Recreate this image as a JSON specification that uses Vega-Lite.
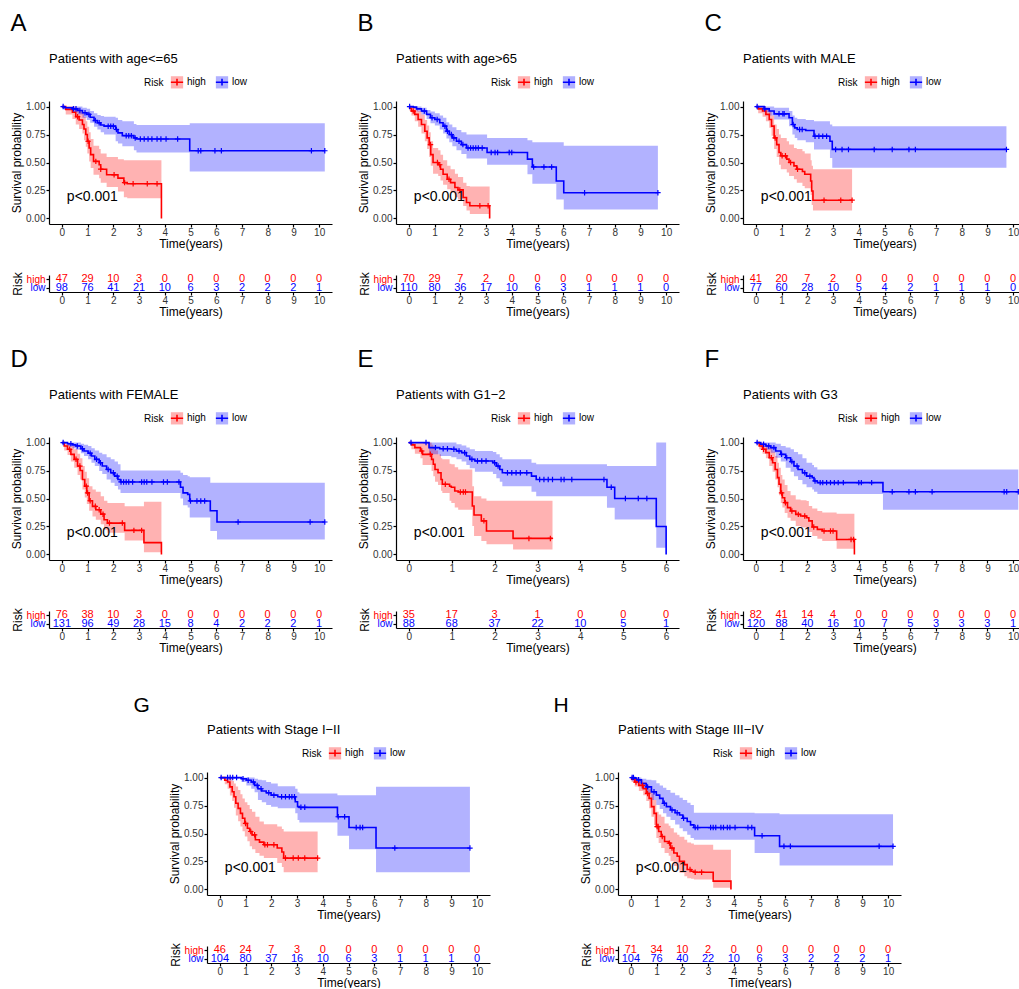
{
"$schema": "https://vega.github.io/schema/vega-lite/v6.json",
"padding": {"left": 10, "top": 12, "right": 0, "bottom": 0},
"background": "white",
"config": {
 "view": {"stroke": null},
 "font": "Liberation Sans",
 "title": {"anchor": "start", "frame": "group", "fontSize": 13, "fontWeight": "normal", "font": "Liberation Sans", "color": "black", "offset": 9},
 "axis": {"grid": false, "domainColor": "black", "tickColor": "black", "domainWidth": 1.2, "tickWidth": 1.2, "tickSize": 3, "labelPadding": 1, "labelColor": "#333333", "labelFont": "Liberation Sans", "labelFontSize": 10, "labelFlush": false, "labelOverlap": false, "titleFont": "Liberation Sans", "titleFontSize": 12, "titleFontWeight": "normal", "titleColor": "black", "titlePadding": 2},
 "axisX": {"labelPadding": 0, "titlePadding": 1},
 "legend": {"labelFont": "Liberation Sans", "labelFontSize": 10, "titleFont": "Liberation Sans", "titleFontSize": 10, "titleFontWeight": "normal", "labelColor": "black", "titleColor": "black"},
 "text": {"font": "Liberation Sans"}
},
"datasets": {
"km": [
{"p":"A","r":"high","t":0,"s":1,"lo":1,"hi":1},
{"p":"A","r":"high","t":0.15,"s":0.975,"lo":0.93,"hi":1},
{"p":"A","r":"high","t":0.41,"s":0.95,"lo":0.89,"hi":1},
{"p":"A","r":"high","t":0.54,"s":0.91,"lo":0.84,"hi":0.99},
{"p":"A","r":"high","t":0.67,"s":0.88,"lo":0.8,"hi":0.97},
{"p":"A","r":"high","t":0.8,"s":0.84,"lo":0.76,"hi":0.94},
{"p":"A","r":"high","t":0.86,"s":0.8,"lo":0.7,"hi":0.91},
{"p":"A","r":"high","t":0.93,"s":0.75,"lo":0.64,"hi":0.87},
{"p":"A","r":"high","t":0.99,"s":0.69,"lo":0.58,"hi":0.82},
{"p":"A","r":"high","t":1.06,"s":0.63,"lo":0.51,"hi":0.77},
{"p":"A","r":"high","t":1.12,"s":0.57,"lo":0.45,"hi":0.71},
{"p":"A","r":"high","t":1.23,"s":0.51,"lo":0.39,"hi":0.65},
{"p":"A","r":"high","t":1.45,"s":0.48,"lo":0.36,"hi":0.62},
{"p":"A","r":"high","t":1.51,"s":0.44,"lo":0.32,"hi":0.58},
{"p":"A","r":"high","t":1.74,"s":0.39,"lo":0.28,"hi":0.55},
{"p":"A","r":"high","t":2.18,"s":0.36,"lo":0.24,"hi":0.53},
{"p":"A","r":"high","t":2.41,"s":0.32,"lo":0.19,"hi":0.52},
{"p":"A","r":"high","t":2.54,"s":0.31,"lo":0.18,"hi":0.52},
{"p":"A","r":"high","t":3.87,"s":0,"lo":0,"hi":0},
{"p":"A","r":"low","t":0,"s":1,"lo":1,"hi":1},
{"p":"A","r":"low","t":0.09,"s":0.99,"lo":0.97,"hi":1},
{"p":"A","r":"low","t":0.41,"s":0.98,"lo":0.95,"hi":1},
{"p":"A","r":"low","t":0.61,"s":0.965,"lo":0.93,"hi":1},
{"p":"A","r":"low","t":0.8,"s":0.945,"lo":0.9,"hi":0.99},
{"p":"A","r":"low","t":0.97,"s":0.93,"lo":0.88,"hi":0.98},
{"p":"A","r":"low","t":1.1,"s":0.905,"lo":0.855,"hi":0.96},
{"p":"A","r":"low","t":1.25,"s":0.875,"lo":0.82,"hi":0.94},
{"p":"A","r":"low","t":1.38,"s":0.855,"lo":0.795,"hi":0.925},
{"p":"A","r":"low","t":1.51,"s":0.835,"lo":0.77,"hi":0.915},
{"p":"A","r":"low","t":1.64,"s":0.825,"lo":0.75,"hi":0.91},
{"p":"A","r":"low","t":2.09,"s":0.795,"lo":0.69,"hi":0.9},
{"p":"A","r":"low","t":2.18,"s":0.765,"lo":0.67,"hi":0.88},
{"p":"A","r":"low","t":2.35,"s":0.74,"lo":0.645,"hi":0.87},
{"p":"A","r":"low","t":2.8,"s":0.72,"lo":0.61,"hi":0.845},
{"p":"A","r":"low","t":2.9,"s":0.71,"lo":0.59,"hi":0.835},
{"p":"A","r":"low","t":4.97,"s":0.605,"lo":0.42,"hi":0.85},
{"p":"A","r":"low","t":10.22,"s":0.605,"lo":0.42,"hi":0.85},
{"p":"B","r":"high","t":0,"s":1,"lo":1,"hi":1},
{"p":"B","r":"high","t":0.03,"s":0.985,"lo":0.96,"hi":1},
{"p":"B","r":"high","t":0.1,"s":0.96,"lo":0.92,"hi":1},
{"p":"B","r":"high","t":0.23,"s":0.93,"lo":0.87,"hi":0.99},
{"p":"B","r":"high","t":0.36,"s":0.885,"lo":0.82,"hi":0.96},
{"p":"B","r":"high","t":0.49,"s":0.84,"lo":0.76,"hi":0.93},
{"p":"B","r":"high","t":0.62,"s":0.78,"lo":0.69,"hi":0.88},
{"p":"B","r":"high","t":0.71,"s":0.72,"lo":0.62,"hi":0.83},
{"p":"B","r":"high","t":0.79,"s":0.66,"lo":0.55,"hi":0.77},
{"p":"B","r":"high","t":0.85,"s":0.57,"lo":0.47,"hi":0.69},
{"p":"B","r":"high","t":0.94,"s":0.5,"lo":0.4,"hi":0.63},
{"p":"B","r":"high","t":1.14,"s":0.48,"lo":0.38,"hi":0.61},
{"p":"B","r":"high","t":1.23,"s":0.44,"lo":0.34,"hi":0.57},
{"p":"B","r":"high","t":1.33,"s":0.395,"lo":0.3,"hi":0.52},
{"p":"B","r":"high","t":1.49,"s":0.35,"lo":0.26,"hi":0.47},
{"p":"B","r":"high","t":1.62,"s":0.32,"lo":0.23,"hi":0.44},
{"p":"B","r":"high","t":1.79,"s":0.276,"lo":0.19,"hi":0.4},
{"p":"B","r":"high","t":1.91,"s":0.255,"lo":0.17,"hi":0.37},
{"p":"B","r":"high","t":2.11,"s":0.187,"lo":0.11,"hi":0.32},
{"p":"B","r":"high","t":2.24,"s":0.142,"lo":0.07,"hi":0.29},
{"p":"B","r":"high","t":2.37,"s":0.113,"lo":0.04,"hi":0.285},
{"p":"B","r":"high","t":3.14,"s":0,"lo":0,"hi":0},
{"p":"B","r":"low","t":0,"s":1,"lo":1,"hi":1},
{"p":"B","r":"low","t":0.17,"s":0.995,"lo":0.98,"hi":1},
{"p":"B","r":"low","t":0.3,"s":0.98,"lo":0.955,"hi":1},
{"p":"B","r":"low","t":0.49,"s":0.96,"lo":0.93,"hi":0.99},
{"p":"B","r":"low","t":0.69,"s":0.93,"lo":0.89,"hi":0.97},
{"p":"B","r":"low","t":0.84,"s":0.9,"lo":0.85,"hi":0.955},
{"p":"B","r":"low","t":1.01,"s":0.885,"lo":0.83,"hi":0.94},
{"p":"B","r":"low","t":1.2,"s":0.855,"lo":0.795,"hi":0.92},
{"p":"B","r":"low","t":1.33,"s":0.825,"lo":0.76,"hi":0.9},
{"p":"B","r":"low","t":1.46,"s":0.78,"lo":0.715,"hi":0.86},
{"p":"B","r":"low","t":1.57,"s":0.75,"lo":0.68,"hi":0.84},
{"p":"B","r":"low","t":1.69,"s":0.72,"lo":0.645,"hi":0.815},
{"p":"B","r":"low","t":1.85,"s":0.69,"lo":0.61,"hi":0.79},
{"p":"B","r":"low","t":2.04,"s":0.66,"lo":0.575,"hi":0.77},
{"p":"B","r":"low","t":2.24,"s":0.63,"lo":0.535,"hi":0.75},
{"p":"B","r":"low","t":3.04,"s":0.59,"lo":0.48,"hi":0.72},
{"p":"B","r":"low","t":4.61,"s":0.53,"lo":0.395,"hi":0.7},
{"p":"B","r":"low","t":4.8,"s":0.46,"lo":0.31,"hi":0.68},
{"p":"B","r":"low","t":5.73,"s":0.335,"lo":0.17,"hi":0.68},
{"p":"B","r":"low","t":6.02,"s":0.23,"lo":0.08,"hi":0.65},
{"p":"B","r":"low","t":9.68,"s":0.23,"lo":0.08,"hi":0.65},
{"p":"C","r":"high","t":0,"s":1,"lo":1,"hi":1},
{"p":"C","r":"high","t":0.09,"s":0.98,"lo":0.94,"hi":1},
{"p":"C","r":"high","t":0.26,"s":0.96,"lo":0.91,"hi":1},
{"p":"C","r":"high","t":0.39,"s":0.93,"lo":0.87,"hi":0.99},
{"p":"C","r":"high","t":0.52,"s":0.885,"lo":0.81,"hi":0.96},
{"p":"C","r":"high","t":0.61,"s":0.825,"lo":0.74,"hi":0.92},
{"p":"C","r":"high","t":0.71,"s":0.72,"lo":0.62,"hi":0.84},
{"p":"C","r":"high","t":0.81,"s":0.66,"lo":0.55,"hi":0.8},
{"p":"C","r":"high","t":0.9,"s":0.59,"lo":0.48,"hi":0.75},
{"p":"C","r":"high","t":0.97,"s":0.56,"lo":0.44,"hi":0.72},
{"p":"C","r":"high","t":1.2,"s":0.53,"lo":0.41,"hi":0.69},
{"p":"C","r":"high","t":1.29,"s":0.5,"lo":0.38,"hi":0.66},
{"p":"C","r":"high","t":1.48,"s":0.47,"lo":0.35,"hi":0.63},
{"p":"C","r":"high","t":1.59,"s":0.44,"lo":0.32,"hi":0.62},
{"p":"C","r":"high","t":1.81,"s":0.42,"lo":0.29,"hi":0.6},
{"p":"C","r":"high","t":1.9,"s":0.395,"lo":0.27,"hi":0.58},
{"p":"C","r":"high","t":2.13,"s":0.335,"lo":0.21,"hi":0.52},
{"p":"C","r":"high","t":2.17,"s":0.245,"lo":0.12,"hi":0.47},
{"p":"C","r":"high","t":2.22,"s":0.163,"lo":0.07,"hi":0.44},
{"p":"C","r":"high","t":3.74,"s":0.163,"lo":0.07,"hi":0.44},
{"p":"C","r":"low","t":0,"s":1,"lo":1,"hi":1},
{"p":"C","r":"low","t":0.32,"s":0.98,"lo":0.95,"hi":1},
{"p":"C","r":"low","t":0.52,"s":0.96,"lo":0.92,"hi":1},
{"p":"C","r":"low","t":0.71,"s":0.935,"lo":0.885,"hi":0.99},
{"p":"C","r":"low","t":1.29,"s":0.9,"lo":0.825,"hi":0.96},
{"p":"C","r":"low","t":1.42,"s":0.84,"lo":0.75,"hi":0.92},
{"p":"C","r":"low","t":1.51,"s":0.81,"lo":0.72,"hi":0.9},
{"p":"C","r":"low","t":1.61,"s":0.795,"lo":0.7,"hi":0.89},
{"p":"C","r":"low","t":1.94,"s":0.786,"lo":0.68,"hi":0.88},
{"p":"C","r":"low","t":2.26,"s":0.735,"lo":0.617,"hi":0.87},
{"p":"C","r":"low","t":2.88,"s":0.69,"lo":0.54,"hi":0.84},
{"p":"C","r":"low","t":2.97,"s":0.617,"lo":0.454,"hi":0.825},
{"p":"C","r":"low","t":9.74,"s":0.617,"lo":0.454,"hi":0.825},
{"p":"D","r":"high","t":0,"s":1,"lo":1,"hi":1},
{"p":"D","r":"high","t":0.09,"s":0.97,"lo":0.93,"hi":1},
{"p":"D","r":"high","t":0.22,"s":0.94,"lo":0.89,"hi":0.99},
{"p":"D","r":"high","t":0.35,"s":0.895,"lo":0.83,"hi":0.97},
{"p":"D","r":"high","t":0.48,"s":0.85,"lo":0.776,"hi":0.94},
{"p":"D","r":"high","t":0.61,"s":0.79,"lo":0.71,"hi":0.9},
{"p":"D","r":"high","t":0.71,"s":0.75,"lo":0.67,"hi":0.86},
{"p":"D","r":"high","t":0.8,"s":0.67,"lo":0.58,"hi":0.79},
{"p":"D","r":"high","t":0.89,"s":0.61,"lo":0.51,"hi":0.74},
{"p":"D","r":"high","t":0.97,"s":0.55,"lo":0.45,"hi":0.68},
{"p":"D","r":"high","t":1.06,"s":0.48,"lo":0.39,"hi":0.61},
{"p":"D","r":"high","t":1.19,"s":0.43,"lo":0.34,"hi":0.58},
{"p":"D","r":"high","t":1.32,"s":0.4,"lo":0.31,"hi":0.56},
{"p":"D","r":"high","t":1.51,"s":0.36,"lo":0.27,"hi":0.52},
{"p":"D","r":"high","t":1.64,"s":0.31,"lo":0.22,"hi":0.48},
{"p":"D","r":"high","t":1.77,"s":0.28,"lo":0.194,"hi":0.46},
{"p":"D","r":"high","t":2.44,"s":0.215,"lo":0.125,"hi":0.43},
{"p":"D","r":"high","t":3.19,"s":0.105,"lo":0.02,"hi":0.47},
{"p":"D","r":"high","t":3.87,"s":0,"lo":0,"hi":0},
{"p":"D","r":"low","t":0,"s":1,"lo":1,"hi":1},
{"p":"D","r":"low","t":0.22,"s":0.99,"lo":0.97,"hi":1},
{"p":"D","r":"low","t":0.41,"s":0.98,"lo":0.95,"hi":1},
{"p":"D","r":"low","t":0.54,"s":0.97,"lo":0.935,"hi":1},
{"p":"D","r":"low","t":0.74,"s":0.945,"lo":0.905,"hi":0.99},
{"p":"D","r":"low","t":0.86,"s":0.925,"lo":0.88,"hi":0.98},
{"p":"D","r":"low","t":1.02,"s":0.905,"lo":0.85,"hi":0.97},
{"p":"D","r":"low","t":1.15,"s":0.88,"lo":0.82,"hi":0.95},
{"p":"D","r":"low","t":1.28,"s":0.85,"lo":0.79,"hi":0.93},
{"p":"D","r":"low","t":1.45,"s":0.82,"lo":0.746,"hi":0.91},
{"p":"D","r":"low","t":1.57,"s":0.79,"lo":0.72,"hi":0.895},
{"p":"D","r":"low","t":1.74,"s":0.76,"lo":0.67,"hi":0.87},
{"p":"D","r":"low","t":1.9,"s":0.73,"lo":0.64,"hi":0.85},
{"p":"D","r":"low","t":2.05,"s":0.7,"lo":0.612,"hi":0.83},
{"p":"D","r":"low","t":2.18,"s":0.67,"lo":0.58,"hi":0.806},
{"p":"D","r":"low","t":2.28,"s":0.648,"lo":0.55,"hi":0.75},
{"p":"D","r":"low","t":4.61,"s":0.6,"lo":0.5,"hi":0.73},
{"p":"D","r":"low","t":4.71,"s":0.55,"lo":0.44,"hi":0.71},
{"p":"D","r":"low","t":4.89,"s":0.537,"lo":0.42,"hi":0.7},
{"p":"D","r":"low","t":4.97,"s":0.478,"lo":0.33,"hi":0.69},
{"p":"D","r":"low","t":5.77,"s":0.39,"lo":0.21,"hi":0.64},
{"p":"D","r":"low","t":6.03,"s":0.29,"lo":0.134,"hi":0.64},
{"p":"D","r":"low","t":10.22,"s":0.29,"lo":0.134,"hi":0.64},
{"p":"E","r":"high","t":0,"s":1,"lo":1,"hi":1},
{"p":"E","r":"high","t":0.06,"s":0.98,"lo":0.94,"hi":1},
{"p":"E","r":"high","t":0.14,"s":0.955,"lo":0.9,"hi":1},
{"p":"E","r":"high","t":0.27,"s":0.925,"lo":0.86,"hi":1},
{"p":"E","r":"high","t":0.32,"s":0.895,"lo":0.8,"hi":1},
{"p":"E","r":"high","t":0.53,"s":0.85,"lo":0.746,"hi":0.98},
{"p":"E","r":"high","t":0.57,"s":0.806,"lo":0.7,"hi":0.955},
{"p":"E","r":"high","t":0.61,"s":0.76,"lo":0.65,"hi":0.93},
{"p":"E","r":"high","t":0.68,"s":0.73,"lo":0.62,"hi":0.895},
{"p":"E","r":"high","t":0.75,"s":0.67,"lo":0.57,"hi":0.86},
{"p":"E","r":"high","t":0.78,"s":0.627,"lo":0.55,"hi":0.85},
{"p":"E","r":"high","t":0.95,"s":0.61,"lo":0.48,"hi":0.81},
{"p":"E","r":"high","t":0.99,"s":0.6,"lo":0.46,"hi":0.806},
{"p":"E","r":"high","t":1.07,"s":0.567,"lo":0.42,"hi":0.78},
{"p":"E","r":"high","t":1.15,"s":0.558,"lo":0.4,"hi":0.76},
{"p":"E","r":"high","t":1.48,"s":0.433,"lo":0.254,"hi":0.61},
{"p":"E","r":"high","t":1.52,"s":0.352,"lo":0.164,"hi":0.52},
{"p":"E","r":"high","t":1.69,"s":0.3,"lo":0.12,"hi":0.5},
{"p":"E","r":"high","t":1.81,"s":0.209,"lo":0.09,"hi":0.48},
{"p":"E","r":"high","t":2.43,"s":0.143,"lo":0.045,"hi":0.48},
{"p":"E","r":"high","t":3.35,"s":0.143,"lo":0.045,"hi":0.48},
{"p":"E","r":"low","t":0,"s":1,"lo":1,"hi":1},
{"p":"E","r":"low","t":0.47,"s":0.955,"lo":0.895,"hi":1},
{"p":"E","r":"low","t":0.72,"s":0.945,"lo":0.88,"hi":1},
{"p":"E","r":"low","t":0.99,"s":0.94,"lo":0.87,"hi":1},
{"p":"E","r":"low","t":1.11,"s":0.925,"lo":0.85,"hi":0.985},
{"p":"E","r":"low","t":1.23,"s":0.91,"lo":0.83,"hi":0.975},
{"p":"E","r":"low","t":1.34,"s":0.88,"lo":0.8,"hi":0.955},
{"p":"E","r":"low","t":1.42,"s":0.85,"lo":0.77,"hi":0.94},
{"p":"E","r":"low","t":1.54,"s":0.836,"lo":0.74,"hi":0.925},
{"p":"E","r":"low","t":1.96,"s":0.82,"lo":0.72,"hi":0.915},
{"p":"E","r":"low","t":2.04,"s":0.79,"lo":0.68,"hi":0.895},
{"p":"E","r":"low","t":2.12,"s":0.76,"lo":0.65,"hi":0.87},
{"p":"E","r":"low","t":2.18,"s":0.73,"lo":0.61,"hi":0.85},
{"p":"E","r":"low","t":2.86,"s":0.7,"lo":0.56,"hi":0.82},
{"p":"E","r":"low","t":2.97,"s":0.67,"lo":0.52,"hi":0.806},
{"p":"E","r":"low","t":4.62,"s":0.6,"lo":0.418,"hi":0.79},
{"p":"E","r":"low","t":4.8,"s":0.5,"lo":0.313,"hi":0.79},
{"p":"E","r":"low","t":5.77,"s":0.25,"lo":0.06,"hi":1},
{"p":"E","r":"low","t":6.0,"s":0,"lo":0,"hi":0},
{"p":"F","r":"high","t":0,"s":1,"lo":1,"hi":1},
{"p":"F","r":"high","t":0.13,"s":0.97,"lo":0.94,"hi":1},
{"p":"F","r":"high","t":0.26,"s":0.94,"lo":0.9,"hi":0.99},
{"p":"F","r":"high","t":0.39,"s":0.91,"lo":0.86,"hi":0.97},
{"p":"F","r":"high","t":0.52,"s":0.865,"lo":0.79,"hi":0.955},
{"p":"F","r":"high","t":0.65,"s":0.82,"lo":0.74,"hi":0.92},
{"p":"F","r":"high","t":0.75,"s":0.76,"lo":0.67,"hi":0.88},
{"p":"F","r":"high","t":0.84,"s":0.687,"lo":0.6,"hi":0.82},
{"p":"F","r":"high","t":0.9,"s":0.627,"lo":0.53,"hi":0.776},
{"p":"F","r":"high","t":0.97,"s":0.55,"lo":0.46,"hi":0.71},
{"p":"F","r":"high","t":1.03,"s":0.507,"lo":0.42,"hi":0.67},
{"p":"F","r":"high","t":1.12,"s":0.463,"lo":0.37,"hi":0.62},
{"p":"F","r":"high","t":1.23,"s":0.418,"lo":0.328,"hi":0.567},
{"p":"F","r":"high","t":1.35,"s":0.388,"lo":0.3,"hi":0.53},
{"p":"F","r":"high","t":1.55,"s":0.358,"lo":0.254,"hi":0.49},
{"p":"F","r":"high","t":1.74,"s":0.343,"lo":0.24,"hi":0.485},
{"p":"F","r":"high","t":1.97,"s":0.328,"lo":0.224,"hi":0.478},
{"p":"F","r":"high","t":2.06,"s":0.3,"lo":0.2,"hi":0.433},
{"p":"F","r":"high","t":2.19,"s":0.245,"lo":0.164,"hi":0.41},
{"p":"F","r":"high","t":2.39,"s":0.224,"lo":0.14,"hi":0.388},
{"p":"F","r":"high","t":2.58,"s":0.21,"lo":0.12,"hi":0.375},
{"p":"F","r":"high","t":3.14,"s":0.134,"lo":0.05,"hi":0.364},
{"p":"F","r":"high","t":3.83,"s":0,"lo":0,"hi":0},
{"p":"F","r":"low","t":0,"s":1,"lo":1,"hi":1},
{"p":"F","r":"low","t":0.19,"s":0.985,"lo":0.96,"hi":1},
{"p":"F","r":"low","t":0.39,"s":0.97,"lo":0.935,"hi":1},
{"p":"F","r":"low","t":0.58,"s":0.955,"lo":0.91,"hi":1},
{"p":"F","r":"low","t":0.77,"s":0.925,"lo":0.865,"hi":0.99},
{"p":"F","r":"low","t":0.97,"s":0.895,"lo":0.83,"hi":0.97},
{"p":"F","r":"low","t":1.16,"s":0.865,"lo":0.776,"hi":0.955},
{"p":"F","r":"low","t":1.35,"s":0.83,"lo":0.74,"hi":0.94},
{"p":"F","r":"low","t":1.48,"s":0.79,"lo":0.7,"hi":0.915},
{"p":"F","r":"low","t":1.64,"s":0.76,"lo":0.665,"hi":0.895},
{"p":"F","r":"low","t":1.81,"s":0.73,"lo":0.627,"hi":0.86},
{"p":"F","r":"low","t":1.97,"s":0.7,"lo":0.6,"hi":0.82},
{"p":"F","r":"low","t":2.19,"s":0.687,"lo":0.58,"hi":0.8},
{"p":"F","r":"low","t":2.26,"s":0.657,"lo":0.56,"hi":0.78},
{"p":"F","r":"low","t":2.39,"s":0.642,"lo":0.54,"hi":0.76},
{"p":"F","r":"low","t":4.94,"s":0.56,"lo":0.4,"hi":0.76},
{"p":"F","r":"low","t":10.2,"s":0.56,"lo":0.4,"hi":0.76},
{"p":"G","r":"high","t":0,"s":1,"lo":1,"hi":1},
{"p":"G","r":"high","t":0.19,"s":0.976,"lo":0.94,"hi":1},
{"p":"G","r":"high","t":0.3,"s":0.96,"lo":0.9,"hi":1},
{"p":"G","r":"high","t":0.39,"s":0.917,"lo":0.84,"hi":1},
{"p":"G","r":"high","t":0.48,"s":0.873,"lo":0.79,"hi":0.97},
{"p":"G","r":"high","t":0.55,"s":0.828,"lo":0.73,"hi":0.947},
{"p":"G","r":"high","t":0.62,"s":0.77,"lo":0.66,"hi":0.92},
{"p":"G","r":"high","t":0.71,"s":0.725,"lo":0.61,"hi":0.888},
{"p":"G","r":"high","t":0.8,"s":0.68,"lo":0.562,"hi":0.85},
{"p":"G","r":"high","t":0.88,"s":0.636,"lo":0.52,"hi":0.814},
{"p":"G","r":"high","t":0.97,"s":0.59,"lo":0.473,"hi":0.78},
{"p":"G","r":"high","t":1.07,"s":0.547,"lo":0.43,"hi":0.754},
{"p":"G","r":"high","t":1.16,"s":0.518,"lo":0.385,"hi":0.72},
{"p":"G","r":"high","t":1.25,"s":0.488,"lo":0.36,"hi":0.695},
{"p":"G","r":"high","t":1.38,"s":0.444,"lo":0.325,"hi":0.65},
{"p":"G","r":"high","t":1.54,"s":0.423,"lo":0.3,"hi":0.607},
{"p":"G","r":"high","t":1.71,"s":0.4,"lo":0.28,"hi":0.583},
{"p":"G","r":"high","t":2.23,"s":0.37,"lo":0.237,"hi":0.562},
{"p":"G","r":"high","t":2.41,"s":0.334,"lo":0.2,"hi":0.54},
{"p":"G","r":"high","t":2.48,"s":0.28,"lo":0.154,"hi":0.518},
{"p":"G","r":"high","t":3.8,"s":0.28,"lo":0.154,"hi":0.518},
{"p":"G","r":"low","t":0,"s":1,"lo":1,"hi":1},
{"p":"G","r":"low","t":0.84,"s":0.99,"lo":0.96,"hi":1},
{"p":"G","r":"low","t":1.03,"s":0.976,"lo":0.93,"hi":1},
{"p":"G","r":"low","t":1.22,"s":0.96,"lo":0.9,"hi":1},
{"p":"G","r":"low","t":1.35,"s":0.93,"lo":0.87,"hi":0.99},
{"p":"G","r":"low","t":1.48,"s":0.9,"lo":0.8,"hi":0.98},
{"p":"G","r":"low","t":1.63,"s":0.88,"lo":0.78,"hi":0.976},
{"p":"G","r":"low","t":1.8,"s":0.864,"lo":0.754,"hi":0.96},
{"p":"G","r":"low","t":1.99,"s":0.843,"lo":0.74,"hi":0.947},
{"p":"G","r":"low","t":2.25,"s":0.828,"lo":0.725,"hi":0.923},
{"p":"G","r":"low","t":2.93,"s":0.784,"lo":0.68,"hi":0.9},
{"p":"G","r":"low","t":3.02,"s":0.74,"lo":0.62,"hi":0.87},
{"p":"G","r":"low","t":3.09,"s":0.734,"lo":0.598,"hi":0.858},
{"p":"G","r":"low","t":4.57,"s":0.65,"lo":0.48,"hi":0.843},
{"p":"G","r":"low","t":5.02,"s":0.553,"lo":0.36,"hi":0.843},
{"p":"G","r":"low","t":6.07,"s":0.37,"lo":0.154,"hi":0.917},
{"p":"G","r":"low","t":9.72,"s":0.37,"lo":0.154,"hi":0.917},
{"p":"H","r":"high","t":0,"s":1,"lo":1,"hi":1},
{"p":"H","r":"high","t":0.03,"s":0.985,"lo":0.96,"hi":1},
{"p":"H","r":"high","t":0.15,"s":0.96,"lo":0.92,"hi":1},
{"p":"H","r":"high","t":0.31,"s":0.93,"lo":0.88,"hi":0.98},
{"p":"H","r":"high","t":0.48,"s":0.9,"lo":0.843,"hi":0.96},
{"p":"H","r":"high","t":0.6,"s":0.858,"lo":0.79,"hi":0.93},
{"p":"H","r":"high","t":0.71,"s":0.814,"lo":0.725,"hi":0.9},
{"p":"H","r":"high","t":0.8,"s":0.74,"lo":0.65,"hi":0.858},
{"p":"H","r":"high","t":0.9,"s":0.68,"lo":0.577,"hi":0.8},
{"p":"H","r":"high","t":0.99,"s":0.562,"lo":0.46,"hi":0.695},
{"p":"H","r":"high","t":1.08,"s":0.518,"lo":0.414,"hi":0.67},
{"p":"H","r":"high","t":1.18,"s":0.473,"lo":0.37,"hi":0.65},
{"p":"H","r":"high","t":1.31,"s":0.429,"lo":0.325,"hi":0.59},
{"p":"H","r":"high","t":1.47,"s":0.414,"lo":0.3,"hi":0.57},
{"p":"H","r":"high","t":1.54,"s":0.37,"lo":0.251,"hi":0.547},
{"p":"H","r":"high","t":1.67,"s":0.325,"lo":0.21,"hi":0.51},
{"p":"H","r":"high","t":1.8,"s":0.296,"lo":0.178,"hi":0.488},
{"p":"H","r":"high","t":1.89,"s":0.251,"lo":0.15,"hi":0.47},
{"p":"H","r":"high","t":2.08,"s":0.222,"lo":0.118,"hi":0.444},
{"p":"H","r":"high","t":2.19,"s":0.178,"lo":0.1,"hi":0.42},
{"p":"H","r":"high","t":2.34,"s":0.163,"lo":0.095,"hi":0.41},
{"p":"H","r":"high","t":2.45,"s":0.154,"lo":0.089,"hi":0.4},
{"p":"H","r":"high","t":3.2,"s":0.074,"lo":0.015,"hi":0.355},
{"p":"H","r":"high","t":3.89,"s":0,"lo":0,"hi":0},
{"p":"H","r":"low","t":0,"s":1,"lo":1,"hi":1},
{"p":"H","r":"low","t":0.15,"s":0.995,"lo":0.97,"hi":1},
{"p":"H","r":"low","t":0.22,"s":0.98,"lo":0.95,"hi":1},
{"p":"H","r":"low","t":0.41,"s":0.947,"lo":0.9,"hi":0.99},
{"p":"H","r":"low","t":0.6,"s":0.917,"lo":0.86,"hi":0.98},
{"p":"H","r":"low","t":0.8,"s":0.873,"lo":0.8,"hi":0.976},
{"p":"H","r":"low","t":0.99,"s":0.843,"lo":0.754,"hi":0.95},
{"p":"H","r":"low","t":1.12,"s":0.814,"lo":0.72,"hi":0.93},
{"p":"H","r":"low","t":1.25,"s":0.77,"lo":0.68,"hi":0.91},
{"p":"H","r":"low","t":1.38,"s":0.74,"lo":0.65,"hi":0.888},
{"p":"H","r":"low","t":1.54,"s":0.71,"lo":0.62,"hi":0.865},
{"p":"H","r":"low","t":1.72,"s":0.686,"lo":0.58,"hi":0.843},
{"p":"H","r":"low","t":1.89,"s":0.666,"lo":0.547,"hi":0.82},
{"p":"H","r":"low","t":2.02,"s":0.636,"lo":0.52,"hi":0.8},
{"p":"H","r":"low","t":2.19,"s":0.607,"lo":0.488,"hi":0.775},
{"p":"H","r":"low","t":2.32,"s":0.577,"lo":0.46,"hi":0.754},
{"p":"H","r":"low","t":2.45,"s":0.553,"lo":0.444,"hi":0.686},
{"p":"H","r":"low","t":4.81,"s":0.48,"lo":0.325,"hi":0.68},
{"p":"H","r":"low","t":5.78,"s":0.385,"lo":0.213,"hi":0.672},
{"p":"H","r":"low","t":10.19,"s":0.385,"lo":0.213,"hi":0.672}
],
"cen": [
{"p":"A","r":"high","t":0.61,"s":0.91},{"p":"A","r":"high","t":1.02,"s":0.69},{"p":"A","r":"high","t":1.32,"s":0.51},{"p":"A","r":"high","t":1.51,"s":0.44},{"p":"A","r":"high","t":2.03,"s":0.39},{"p":"A","r":"high","t":2.44,"s":0.32},{"p":"A","r":"high","t":2.77,"s":0.31},{"p":"A","r":"high","t":3.32,"s":0.31},{"p":"A","r":"high","t":3.7,"s":0.31},
{"p":"A","r":"low","t":0.05,"s":1},{"p":"A","r":"low","t":0.45,"s":0.98},{"p":"A","r":"low","t":0.55,"s":0.98},{"p":"A","r":"low","t":0.7,"s":0.965},{"p":"A","r":"low","t":0.9,"s":0.945},{"p":"A","r":"low","t":1.05,"s":0.93},{"p":"A","r":"low","t":1.3,"s":0.875},{"p":"A","r":"low","t":1.45,"s":0.855},{"p":"A","r":"low","t":1.8,"s":0.825},{"p":"A","r":"low","t":1.9,"s":0.825},{"p":"A","r":"low","t":2.0,"s":0.825},{"p":"A","r":"low","t":2.12,"s":0.795},{"p":"A","r":"low","t":2.5,"s":0.74},{"p":"A","r":"low","t":2.6,"s":0.74},{"p":"A","r":"low","t":2.7,"s":0.74},{"p":"A","r":"low","t":2.85,"s":0.72},{"p":"A","r":"low","t":3.05,"s":0.71},{"p":"A","r":"low","t":3.2,"s":0.71},{"p":"A","r":"low","t":3.35,"s":0.71},{"p":"A","r":"low","t":3.5,"s":0.71},{"p":"A","r":"low","t":3.7,"s":0.71},{"p":"A","r":"low","t":3.85,"s":0.71},{"p":"A","r":"low","t":4.05,"s":0.71},{"p":"A","r":"low","t":4.5,"s":0.71},{"p":"A","r":"low","t":5.3,"s":0.605},{"p":"A","r":"low","t":5.4,"s":0.605},{"p":"A","r":"low","t":5.95,"s":0.605},{"p":"A","r":"low","t":6.2,"s":0.605},{"p":"A","r":"low","t":9.7,"s":0.605},{"p":"A","r":"low","t":10.22,"s":0.605},
{"p":"B","r":"high","t":0.17,"s":0.96},{"p":"B","r":"high","t":0.84,"s":0.66},{"p":"B","r":"high","t":1.11,"s":0.5},{"p":"B","r":"high","t":1.2,"s":0.48},{"p":"B","r":"high","t":1.56,"s":0.35},{"p":"B","r":"high","t":1.98,"s":0.255},{"p":"B","r":"high","t":2.76,"s":0.113},{"p":"B","r":"high","t":3.08,"s":0.113},
{"p":"B","r":"low","t":0.03,"s":1},{"p":"B","r":"low","t":0.6,"s":0.96},{"p":"B","r":"low","t":0.9,"s":0.9},{"p":"B","r":"low","t":1.1,"s":0.885},{"p":"B","r":"low","t":1.4,"s":0.825},{"p":"B","r":"low","t":1.5,"s":0.78},{"p":"B","r":"low","t":1.65,"s":0.75},{"p":"B","r":"low","t":1.75,"s":0.72},{"p":"B","r":"low","t":1.95,"s":0.69},{"p":"B","r":"low","t":2.1,"s":0.66},{"p":"B","r":"low","t":2.3,"s":0.63},{"p":"B","r":"low","t":2.4,"s":0.63},{"p":"B","r":"low","t":2.5,"s":0.63},{"p":"B","r":"low","t":2.6,"s":0.63},{"p":"B","r":"low","t":2.7,"s":0.63},{"p":"B","r":"low","t":2.85,"s":0.63},{"p":"B","r":"low","t":3.2,"s":0.59},{"p":"B","r":"low","t":3.35,"s":0.59},{"p":"B","r":"low","t":3.45,"s":0.59},{"p":"B","r":"low","t":3.9,"s":0.59},{"p":"B","r":"low","t":4.0,"s":0.59},{"p":"B","r":"low","t":4.85,"s":0.46},{"p":"B","r":"low","t":5.25,"s":0.46},{"p":"B","r":"low","t":5.55,"s":0.46},{"p":"B","r":"low","t":6.83,"s":0.23},{"p":"B","r":"low","t":9.68,"s":0.23},
{"p":"C","r":"high","t":0.75,"s":0.72},{"p":"C","r":"high","t":1.02,"s":0.56},{"p":"C","r":"high","t":1.15,"s":0.56},{"p":"C","r":"high","t":1.35,"s":0.5},{"p":"C","r":"high","t":1.62,"s":0.44},{"p":"C","r":"high","t":2.65,"s":0.163},{"p":"C","r":"high","t":3.3,"s":0.163},{"p":"C","r":"high","t":3.74,"s":0.163},
{"p":"C","r":"low","t":0.05,"s":1},{"p":"C","r":"low","t":0.35,"s":0.98},{"p":"C","r":"low","t":0.9,"s":0.935},{"p":"C","r":"low","t":1.05,"s":0.935},{"p":"C","r":"low","t":1.1,"s":0.935},{"p":"C","r":"low","t":1.45,"s":0.84},{"p":"C","r":"low","t":1.7,"s":0.795},{"p":"C","r":"low","t":1.8,"s":0.795},{"p":"C","r":"low","t":2.3,"s":0.735},{"p":"C","r":"low","t":2.45,"s":0.735},{"p":"C","r":"low","t":2.6,"s":0.735},{"p":"C","r":"low","t":2.75,"s":0.735},{"p":"C","r":"low","t":3.1,"s":0.617},{"p":"C","r":"low","t":3.35,"s":0.617},{"p":"C","r":"low","t":3.6,"s":0.617},{"p":"C","r":"low","t":4.6,"s":0.617},{"p":"C","r":"low","t":5.3,"s":0.617},{"p":"C","r":"low","t":5.95,"s":0.617},{"p":"C","r":"low","t":6.2,"s":0.617},{"p":"C","r":"low","t":9.74,"s":0.617},
{"p":"D","r":"high","t":0.3,"s":0.94},{"p":"D","r":"high","t":0.55,"s":0.85},{"p":"D","r":"high","t":0.7,"s":0.79},{"p":"D","r":"high","t":0.95,"s":0.61},{"p":"D","r":"high","t":1.0,"s":0.55},{"p":"D","r":"high","t":1.1,"s":0.48},{"p":"D","r":"high","t":1.3,"s":0.43},{"p":"D","r":"high","t":1.45,"s":0.4},{"p":"D","r":"high","t":1.6,"s":0.36},{"p":"D","r":"high","t":1.85,"s":0.28},{"p":"D","r":"high","t":2.35,"s":0.28},{"p":"D","r":"high","t":2.8,"s":0.215},{"p":"D","r":"high","t":3.1,"s":0.215},
{"p":"D","r":"low","t":0.05,"s":1},{"p":"D","r":"low","t":0.35,"s":0.99},{"p":"D","r":"low","t":0.6,"s":0.97},{"p":"D","r":"low","t":0.8,"s":0.945},{"p":"D","r":"low","t":1.1,"s":0.905},{"p":"D","r":"low","t":1.35,"s":0.85},{"p":"D","r":"low","t":1.5,"s":0.82},{"p":"D","r":"low","t":1.8,"s":0.76},{"p":"D","r":"low","t":2.0,"s":0.73},{"p":"D","r":"low","t":2.15,"s":0.7},{"p":"D","r":"low","t":2.3,"s":0.648},{"p":"D","r":"low","t":2.4,"s":0.648},{"p":"D","r":"low","t":2.5,"s":0.648},{"p":"D","r":"low","t":2.6,"s":0.648},{"p":"D","r":"low","t":2.75,"s":0.648},{"p":"D","r":"low","t":3.1,"s":0.648},{"p":"D","r":"low","t":3.2,"s":0.648},{"p":"D","r":"low","t":3.3,"s":0.648},{"p":"D","r":"low","t":3.5,"s":0.648},{"p":"D","r":"low","t":3.95,"s":0.648},{"p":"D","r":"low","t":4.1,"s":0.648},{"p":"D","r":"low","t":4.55,"s":0.648},{"p":"D","r":"low","t":5.0,"s":0.478},{"p":"D","r":"low","t":5.25,"s":0.478},{"p":"D","r":"low","t":5.4,"s":0.478},{"p":"D","r":"low","t":5.55,"s":0.478},{"p":"D","r":"low","t":6.85,"s":0.29},{"p":"D","r":"low","t":9.65,"s":0.29},{"p":"D","r":"low","t":10.22,"s":0.29},
{"p":"E","r":"high","t":0.3,"s":0.925},{"p":"E","r":"high","t":0.5,"s":0.895},{"p":"E","r":"high","t":0.85,"s":0.627},{"p":"E","r":"high","t":1.2,"s":0.558},{"p":"E","r":"high","t":1.27,"s":0.558},{"p":"E","r":"high","t":1.32,"s":0.558},{"p":"E","r":"high","t":1.75,"s":0.3},{"p":"E","r":"high","t":2.8,"s":0.143},{"p":"E","r":"high","t":3.3,"s":0.143},
{"p":"E","r":"low","t":0.05,"s":1},{"p":"E","r":"low","t":0.4,"s":1},{"p":"E","r":"low","t":0.62,"s":0.955},{"p":"E","r":"low","t":0.8,"s":0.945},{"p":"E","r":"low","t":0.9,"s":0.945},{"p":"E","r":"low","t":1.05,"s":0.94},{"p":"E","r":"low","t":1.17,"s":0.925},{"p":"E","r":"low","t":1.3,"s":0.91},{"p":"E","r":"low","t":1.47,"s":0.85},{"p":"E","r":"low","t":1.6,"s":0.836},{"p":"E","r":"low","t":1.7,"s":0.836},{"p":"E","r":"low","t":1.8,"s":0.836},{"p":"E","r":"low","t":2.0,"s":0.82},{"p":"E","r":"low","t":2.08,"s":0.79},{"p":"E","r":"low","t":2.3,"s":0.73},{"p":"E","r":"low","t":2.4,"s":0.73},{"p":"E","r":"low","t":2.5,"s":0.73},{"p":"E","r":"low","t":2.6,"s":0.73},{"p":"E","r":"low","t":2.75,"s":0.73},{"p":"E","r":"low","t":3.05,"s":0.67},{"p":"E","r":"low","t":3.15,"s":0.67},{"p":"E","r":"low","t":3.25,"s":0.67},{"p":"E","r":"low","t":3.35,"s":0.67},{"p":"E","r":"low","t":3.55,"s":0.67},{"p":"E","r":"low","t":3.62,"s":0.67},{"p":"E","r":"low","t":3.8,"s":0.67},{"p":"E","r":"low","t":4.55,"s":0.67},{"p":"E","r":"low","t":4.72,"s":0.6},{"p":"E","r":"low","t":5.05,"s":0.5},{"p":"E","r":"low","t":5.35,"s":0.5},{"p":"E","r":"low","t":5.55,"s":0.5},
{"p":"F","r":"high","t":0.3,"s":0.94},{"p":"F","r":"high","t":0.6,"s":0.865},{"p":"F","r":"high","t":1.0,"s":0.55},{"p":"F","r":"high","t":1.15,"s":0.463},{"p":"F","r":"high","t":1.4,"s":0.388},{"p":"F","r":"high","t":1.65,"s":0.358},{"p":"F","r":"high","t":1.9,"s":0.343},{"p":"F","r":"high","t":2.25,"s":0.245},{"p":"F","r":"high","t":2.65,"s":0.21},{"p":"F","r":"high","t":2.9,"s":0.21},{"p":"F","r":"high","t":3.0,"s":0.21},{"p":"F","r":"high","t":3.7,"s":0.134},{"p":"F","r":"high","t":3.8,"s":0.134},
{"p":"F","r":"low","t":0.05,"s":1},{"p":"F","r":"low","t":0.3,"s":0.985},{"p":"F","r":"low","t":0.5,"s":0.97},{"p":"F","r":"low","t":0.7,"s":0.955},{"p":"F","r":"low","t":1.0,"s":0.895},{"p":"F","r":"low","t":1.2,"s":0.865},{"p":"F","r":"low","t":1.4,"s":0.83},{"p":"F","r":"low","t":1.6,"s":0.79},{"p":"F","r":"low","t":1.9,"s":0.73},{"p":"F","r":"low","t":2.1,"s":0.7},{"p":"F","r":"low","t":2.3,"s":0.657},{"p":"F","r":"low","t":2.5,"s":0.642},{"p":"F","r":"low","t":2.6,"s":0.642},{"p":"F","r":"low","t":2.75,"s":0.642},{"p":"F","r":"low","t":2.9,"s":0.642},{"p":"F","r":"low","t":3.05,"s":0.642},{"p":"F","r":"low","t":3.2,"s":0.642},{"p":"F","r":"low","t":3.4,"s":0.642},{"p":"F","r":"low","t":4.0,"s":0.642},{"p":"F","r":"low","t":4.1,"s":0.642},{"p":"F","r":"low","t":4.5,"s":0.642},{"p":"F","r":"low","t":5.3,"s":0.56},{"p":"F","r":"low","t":5.95,"s":0.56},{"p":"F","r":"low","t":6.2,"s":0.56},{"p":"F","r":"low","t":6.85,"s":0.56},{"p":"F","r":"low","t":9.65,"s":0.56},{"p":"F","r":"low","t":9.75,"s":0.56},{"p":"F","r":"low","t":10.2,"s":0.56},
{"p":"G","r":"high","t":1.0,"s":0.59},{"p":"G","r":"high","t":1.2,"s":0.518},{"p":"G","r":"high","t":1.35,"s":0.488},{"p":"G","r":"high","t":1.75,"s":0.4},{"p":"G","r":"high","t":1.85,"s":0.4},{"p":"G","r":"high","t":2.1,"s":0.4},{"p":"G","r":"high","t":2.55,"s":0.28},{"p":"G","r":"high","t":2.85,"s":0.28},{"p":"G","r":"high","t":3.05,"s":0.28},{"p":"G","r":"high","t":3.3,"s":0.28},{"p":"G","r":"high","t":3.8,"s":0.28},
{"p":"G","r":"low","t":0.05,"s":1},{"p":"G","r":"low","t":0.3,"s":1},{"p":"G","r":"low","t":0.4,"s":1},{"p":"G","r":"low","t":0.5,"s":1},{"p":"G","r":"low","t":0.65,"s":1},{"p":"G","r":"low","t":0.9,"s":0.99},{"p":"G","r":"low","t":1.1,"s":0.976},{"p":"G","r":"low","t":1.3,"s":0.96},{"p":"G","r":"low","t":1.45,"s":0.93},{"p":"G","r":"low","t":1.6,"s":0.9},{"p":"G","r":"low","t":1.9,"s":0.864},{"p":"G","r":"low","t":2.1,"s":0.843},{"p":"G","r":"low","t":2.4,"s":0.828},{"p":"G","r":"low","t":2.55,"s":0.828},{"p":"G","r":"low","t":2.7,"s":0.828},{"p":"G","r":"low","t":2.8,"s":0.828},{"p":"G","r":"low","t":2.9,"s":0.828},{"p":"G","r":"low","t":3.15,"s":0.734},{"p":"G","r":"low","t":3.3,"s":0.734},{"p":"G","r":"low","t":4.6,"s":0.65},{"p":"G","r":"low","t":4.85,"s":0.65},{"p":"G","r":"low","t":5.3,"s":0.553},{"p":"G","r":"low","t":5.45,"s":0.553},{"p":"G","r":"low","t":5.55,"s":0.553},{"p":"G","r":"low","t":6.8,"s":0.37},{"p":"G","r":"low","t":9.72,"s":0.37},
{"p":"H","r":"high","t":0.2,"s":0.96},{"p":"H","r":"high","t":0.45,"s":0.93},{"p":"H","r":"high","t":0.65,"s":0.858},{"p":"H","r":"high","t":1.02,"s":0.562},{"p":"H","r":"high","t":1.06,"s":0.562},{"p":"H","r":"high","t":1.22,"s":0.473},{"p":"H","r":"high","t":1.5,"s":0.414},{"p":"H","r":"high","t":1.6,"s":0.37},{"p":"H","r":"high","t":2.3,"s":0.178},{"p":"H","r":"high","t":2.5,"s":0.154},{"p":"H","r":"high","t":2.75,"s":0.154},
{"p":"H","r":"low","t":0.05,"s":1},{"p":"H","r":"low","t":0.1,"s":1},{"p":"H","r":"low","t":0.3,"s":0.98},{"p":"H","r":"low","t":0.65,"s":0.917},{"p":"H","r":"low","t":0.9,"s":0.873},{"p":"H","r":"low","t":1.3,"s":0.77},{"p":"H","r":"low","t":1.6,"s":0.71},{"p":"H","r":"low","t":1.8,"s":0.686},{"p":"H","r":"low","t":2.05,"s":0.636},{"p":"H","r":"low","t":2.5,"s":0.553},{"p":"H","r":"low","t":2.6,"s":0.553},{"p":"H","r":"low","t":3.1,"s":0.553},{"p":"H","r":"low","t":3.2,"s":0.553},{"p":"H","r":"low","t":3.3,"s":0.553},{"p":"H","r":"low","t":3.5,"s":0.553},{"p":"H","r":"low","t":3.6,"s":0.553},{"p":"H","r":"low","t":3.75,"s":0.553},{"p":"H","r":"low","t":3.85,"s":0.553},{"p":"H","r":"low","t":4.05,"s":0.553},{"p":"H","r":"low","t":4.55,"s":0.553},{"p":"H","r":"low","t":4.7,"s":0.553},{"p":"H","r":"low","t":5.1,"s":0.48},{"p":"H","r":"low","t":5.95,"s":0.385},{"p":"H","r":"low","t":6.2,"s":0.385},{"p":"H","r":"low","t":9.65,"s":0.385},{"p":"H","r":"low","t":10.19,"s":0.385}
],
"risk": [
{"p":"A","r":"high","t":0,"n":47},{"p":"A","r":"high","t":1,"n":29},{"p":"A","r":"high","t":2,"n":10},{"p":"A","r":"high","t":3,"n":3},{"p":"A","r":"high","t":4,"n":0},{"p":"A","r":"high","t":5,"n":0},{"p":"A","r":"high","t":6,"n":0},{"p":"A","r":"high","t":7,"n":0},{"p":"A","r":"high","t":8,"n":0},{"p":"A","r":"high","t":9,"n":0},{"p":"A","r":"high","t":10,"n":0},
{"p":"A","r":"low","t":0,"n":98},{"p":"A","r":"low","t":1,"n":76},{"p":"A","r":"low","t":2,"n":41},{"p":"A","r":"low","t":3,"n":21},{"p":"A","r":"low","t":4,"n":10},{"p":"A","r":"low","t":5,"n":6},{"p":"A","r":"low","t":6,"n":3},{"p":"A","r":"low","t":7,"n":2},{"p":"A","r":"low","t":8,"n":2},{"p":"A","r":"low","t":9,"n":2},{"p":"A","r":"low","t":10,"n":1},
{"p":"B","r":"high","t":0,"n":70},{"p":"B","r":"high","t":1,"n":29},{"p":"B","r":"high","t":2,"n":7},{"p":"B","r":"high","t":3,"n":2},{"p":"B","r":"high","t":4,"n":0},{"p":"B","r":"high","t":5,"n":0},{"p":"B","r":"high","t":6,"n":0},{"p":"B","r":"high","t":7,"n":0},{"p":"B","r":"high","t":8,"n":0},{"p":"B","r":"high","t":9,"n":0},{"p":"B","r":"high","t":10,"n":0},
{"p":"B","r":"low","t":0,"n":110},{"p":"B","r":"low","t":1,"n":80},{"p":"B","r":"low","t":2,"n":36},{"p":"B","r":"low","t":3,"n":17},{"p":"B","r":"low","t":4,"n":10},{"p":"B","r":"low","t":5,"n":6},{"p":"B","r":"low","t":6,"n":3},{"p":"B","r":"low","t":7,"n":1},{"p":"B","r":"low","t":8,"n":1},{"p":"B","r":"low","t":9,"n":1},{"p":"B","r":"low","t":10,"n":0},
{"p":"C","r":"high","t":0,"n":41},{"p":"C","r":"high","t":1,"n":20},{"p":"C","r":"high","t":2,"n":7},{"p":"C","r":"high","t":3,"n":2},{"p":"C","r":"high","t":4,"n":0},{"p":"C","r":"high","t":5,"n":0},{"p":"C","r":"high","t":6,"n":0},{"p":"C","r":"high","t":7,"n":0},{"p":"C","r":"high","t":8,"n":0},{"p":"C","r":"high","t":9,"n":0},{"p":"C","r":"high","t":10,"n":0},
{"p":"C","r":"low","t":0,"n":77},{"p":"C","r":"low","t":1,"n":60},{"p":"C","r":"low","t":2,"n":28},{"p":"C","r":"low","t":3,"n":10},{"p":"C","r":"low","t":4,"n":5},{"p":"C","r":"low","t":5,"n":4},{"p":"C","r":"low","t":6,"n":2},{"p":"C","r":"low","t":7,"n":1},{"p":"C","r":"low","t":8,"n":1},{"p":"C","r":"low","t":9,"n":1},{"p":"C","r":"low","t":10,"n":0},
{"p":"D","r":"high","t":0,"n":76},{"p":"D","r":"high","t":1,"n":38},{"p":"D","r":"high","t":2,"n":10},{"p":"D","r":"high","t":3,"n":3},{"p":"D","r":"high","t":4,"n":0},{"p":"D","r":"high","t":5,"n":0},{"p":"D","r":"high","t":6,"n":0},{"p":"D","r":"high","t":7,"n":0},{"p":"D","r":"high","t":8,"n":0},{"p":"D","r":"high","t":9,"n":0},{"p":"D","r":"high","t":10,"n":0},
{"p":"D","r":"low","t":0,"n":131},{"p":"D","r":"low","t":1,"n":96},{"p":"D","r":"low","t":2,"n":49},{"p":"D","r":"low","t":3,"n":28},{"p":"D","r":"low","t":4,"n":15},{"p":"D","r":"low","t":5,"n":8},{"p":"D","r":"low","t":6,"n":4},{"p":"D","r":"low","t":7,"n":2},{"p":"D","r":"low","t":8,"n":2},{"p":"D","r":"low","t":9,"n":2},{"p":"D","r":"low","t":10,"n":1},
{"p":"E","r":"high","t":0,"n":35},{"p":"E","r":"high","t":1,"n":17},{"p":"E","r":"high","t":2,"n":3},{"p":"E","r":"high","t":3,"n":1},{"p":"E","r":"high","t":4,"n":0},{"p":"E","r":"high","t":5,"n":0},{"p":"E","r":"high","t":6,"n":0},
{"p":"E","r":"low","t":0,"n":88},{"p":"E","r":"low","t":1,"n":68},{"p":"E","r":"low","t":2,"n":37},{"p":"E","r":"low","t":3,"n":22},{"p":"E","r":"low","t":4,"n":10},{"p":"E","r":"low","t":5,"n":5},{"p":"E","r":"low","t":6,"n":1},
{"p":"F","r":"high","t":0,"n":82},{"p":"F","r":"high","t":1,"n":41},{"p":"F","r":"high","t":2,"n":14},{"p":"F","r":"high","t":3,"n":4},{"p":"F","r":"high","t":4,"n":0},{"p":"F","r":"high","t":5,"n":0},{"p":"F","r":"high","t":6,"n":0},{"p":"F","r":"high","t":7,"n":0},{"p":"F","r":"high","t":8,"n":0},{"p":"F","r":"high","t":9,"n":0},{"p":"F","r":"high","t":10,"n":0},
{"p":"F","r":"low","t":0,"n":120},{"p":"F","r":"low","t":1,"n":88},{"p":"F","r":"low","t":2,"n":40},{"p":"F","r":"low","t":3,"n":16},{"p":"F","r":"low","t":4,"n":10},{"p":"F","r":"low","t":5,"n":7},{"p":"F","r":"low","t":6,"n":5},{"p":"F","r":"low","t":7,"n":3},{"p":"F","r":"low","t":8,"n":3},{"p":"F","r":"low","t":9,"n":3},{"p":"F","r":"low","t":10,"n":1},
{"p":"G","r":"high","t":0,"n":46},{"p":"G","r":"high","t":1,"n":24},{"p":"G","r":"high","t":2,"n":7},{"p":"G","r":"high","t":3,"n":3},{"p":"G","r":"high","t":4,"n":0},{"p":"G","r":"high","t":5,"n":0},{"p":"G","r":"high","t":6,"n":0},{"p":"G","r":"high","t":7,"n":0},{"p":"G","r":"high","t":8,"n":0},{"p":"G","r":"high","t":9,"n":0},{"p":"G","r":"high","t":10,"n":0},
{"p":"G","r":"low","t":0,"n":104},{"p":"G","r":"low","t":1,"n":80},{"p":"G","r":"low","t":2,"n":37},{"p":"G","r":"low","t":3,"n":16},{"p":"G","r":"low","t":4,"n":10},{"p":"G","r":"low","t":5,"n":6},{"p":"G","r":"low","t":6,"n":3},{"p":"G","r":"low","t":7,"n":1},{"p":"G","r":"low","t":8,"n":1},{"p":"G","r":"low","t":9,"n":1},{"p":"G","r":"low","t":10,"n":0},
{"p":"H","r":"high","t":0,"n":71},{"p":"H","r":"high","t":1,"n":34},{"p":"H","r":"high","t":2,"n":10},{"p":"H","r":"high","t":3,"n":2},{"p":"H","r":"high","t":4,"n":0},{"p":"H","r":"high","t":5,"n":0},{"p":"H","r":"high","t":6,"n":0},{"p":"H","r":"high","t":7,"n":0},{"p":"H","r":"high","t":8,"n":0},{"p":"H","r":"high","t":9,"n":0},{"p":"H","r":"high","t":10,"n":0},
{"p":"H","r":"low","t":0,"n":104},{"p":"H","r":"low","t":1,"n":76},{"p":"H","r":"low","t":2,"n":40},{"p":"H","r":"low","t":3,"n":22},{"p":"H","r":"low","t":4,"n":10},{"p":"H","r":"low","t":5,"n":6},{"p":"H","r":"low","t":6,"n":3},{"p":"H","r":"low","t":7,"n":2},{"p":"H","r":"low","t":8,"n":2},{"p":"H","r":"low","t":9,"n":2},{"p":"H","r":"low","t":10,"n":1}
]
},
"spacing": 31,
"resolve": {"scale": {"fill": "independent", "stroke": "independent"}, "legend": {"fill": "independent", "stroke": "independent"}},
"vconcat": [
{"spacing": 25, "resolve": {"scale": {"fill": "independent", "stroke": "independent"}, "legend": {"fill": "independent", "stroke": "independent"}},
 "hconcat": [
  {"title": {"text": "A", "frame": "bounds", "fontSize": 24, "offset": 17},
   "spacing": 22, "resolve": {"scale": {"fill": "independent", "stroke": "independent"}, "legend": {"fill": "independent", "stroke": "independent"}},
   "vconcat": [
    {"title": "Patients with age<=65", "width": 283, "height": 123,
     "layer": [
      {"data": {"name": "km"}, "transform": [{"filter": "datum.p=='A'"}], "mark": {"type": "area", "interpolate": "step-after", "opacity": 0.3},
       "encoding": {"x": {"field": "t", "type": "quantitative", "title": "Time(years)", "scale": {"domain": [-0.5, 10.5], "nice": false, "zero": false}, "axis": {"values": [0,1,2,3,4,5,6,7,8,9,10]}},
        "y": {"field": "lo", "type": "quantitative", "title": "Survival probability", "scale": {"domain": [-0.05, 1.05], "nice": false, "zero": false}, "axis": {"values": [0,0.25,0.5,0.75,1], "format": ".2f"}},
        "y2": {"field": "hi"},
        "fill": {"field": "r", "type": "nominal", "scale": {"range": ["red","blue"]}, "legend": {"orient": "none", "legendX": 95, "legendY": -26, "direction": "horizontal", "title": "Risk", "titleOrient": "left", "symbolType": "square", "symbolSize": 150, "symbolOpacity": 0.3, "symbolStrokeWidth": 1.6, "symbolStrokeColor": "transparent", "labelOffset": 3, "columnPadding": 6, "titlePadding": 6}}}},
      {"data": {"name": "km"}, "transform": [{"filter": "datum.p=='A'"}], "mark": {"type": "line", "interpolate": "step-after", "strokeWidth": 1.6},
       "encoding": {"x": {"field": "t", "type": "quantitative", "title": "Time(years)", "scale": {"domain": [-0.5, 10.5], "nice": false, "zero": false}, "axis": {"values": [0,1,2,3,4,5,6,7,8,9,10]}},
        "y": {"field": "s", "type": "quantitative", "title": "Survival probability", "scale": {"domain": [-0.05, 1.05], "nice": false, "zero": false}, "axis": {"values": [0,0.25,0.5,0.75,1], "format": ".2f"}},
        "stroke": {"field": "r", "type": "nominal", "scale": {"domain": ["high","low"], "range": ["red","blue"]}, "legend": {"orient": "none", "legendX": 95, "legendY": -26, "direction": "horizontal", "title": "Risk", "titleOrient": "left", "symbolType": "M-1,0H1M0,-0.55V0.55", "symbolSize": 150, "symbolStrokeWidth": 1.6, "labelOffset": 3, "columnPadding": 6, "titlePadding": 6, "titleOpacity": 0, "labelOpacity": 0}}}},
      {"data": {"name": "cen"}, "transform": [{"filter": "datum.p=='A'"}], "mark": {"type": "point", "shape": "M-1,0H1M0,-1V1", "filled": false, "size": 30, "strokeWidth": 1.2, "opacity": 1},
       "encoding": {"x": {"field": "t", "type": "quantitative", "title": "Time(years)", "scale": {"domain": [-0.5, 10.5], "nice": false, "zero": false}, "axis": {"values": [0,1,2,3,4,5,6,7,8,9,10]}},
        "y": {"field": "s", "type": "quantitative", "title": "Survival probability", "scale": {"domain": [-0.05, 1.05], "nice": false, "zero": false}, "axis": {"values": [0,0.25,0.5,0.75,1], "format": ".2f"}},
        "color": {"field": "r", "type": "nominal", "scale": {"domain": ["high","low"], "range": ["red","blue"]}, "legend": null}}},
      {"data": {"values": [{}]}, "mark": {"type": "text", "align": "left", "dx": 5, "fontSize": 14, "color": "black"},
       "encoding": {"x": {"datum": 0, "title": "Time(years)", "scale": {"domain": [-0.5, 10.5], "nice": false, "zero": false}, "axis": {"values": [0,1,2,3,4,5,6,7,8,9,10]}}, "y": {"datum": 0.19, "title": "Survival probability", "scale": {"domain": [-0.05, 1.05], "nice": false, "zero": false}, "axis": {"values": [0,0.25,0.5,0.75,1], "format": ".2f"}}, "text": {"value": "p<0.001"}}}
     ]},
    {"width": 283, "height": 17, "data": {"name": "risk"}, "transform": [{"filter": "datum.p=='A'"}], "mark": {"type": "text", "fontSize": 11},
     "encoding": {"x": {"field": "t", "type": "quantitative", "title": "Time(years)", "scale": {"domain": [-0.5, 10.5], "nice": false, "zero": false}, "axis": {"values": [0,1,2,3,4,5,6,7,8,9,10]}},
      "y": {"field": "r", "type": "nominal", "title": "Risk", "scale": {"type": "point", "domain": ["high","low"], "padding": 0.5}, "axis": {"labelColor": {"condition": {"test": "datum.value=='high'", "value": "red"}, "value": "blue"}}},
      "text": {"field": "n", "type": "quantitative"},
      "color": {"field": "r", "type": "nominal", "scale": {"domain": ["high","low"], "range": ["red","blue"]}, "legend": null}}}
   ]},
  {"title": {"text": "B", "frame": "bounds", "fontSize": 24, "offset": 17},
   "spacing": 22, "resolve": {"scale": {"fill": "independent", "stroke": "independent"}, "legend": {"fill": "independent", "stroke": "independent"}},
   "vconcat": [
    {"title": "Patients with age>65", "width": 283, "height": 123,
     "layer": [
      {"data": {"name": "km"}, "transform": [{"filter": "datum.p=='B'"}], "mark": {"type": "area", "interpolate": "step-after", "opacity": 0.3},
       "encoding": {"x": {"field": "t", "type": "quantitative", "title": "Time(years)", "scale": {"domain": [-0.5, 10.5], "nice": false, "zero": false}, "axis": {"values": [0,1,2,3,4,5,6,7,8,9,10]}},
        "y": {"field": "lo", "type": "quantitative", "title": "Survival probability", "scale": {"domain": [-0.05, 1.05], "nice": false, "zero": false}, "axis": {"values": [0,0.25,0.5,0.75,1], "format": ".2f"}},
        "y2": {"field": "hi"},
        "fill": {"field": "r", "type": "nominal", "scale": {"range": ["red","blue"]}, "legend": {"orient": "none", "legendX": 95, "legendY": -26, "direction": "horizontal", "title": "Risk", "titleOrient": "left", "symbolType": "square", "symbolSize": 150, "symbolOpacity": 0.3, "symbolStrokeWidth": 1.6, "symbolStrokeColor": "transparent", "labelOffset": 3, "columnPadding": 6, "titlePadding": 6}}}},
      {"data": {"name": "km"}, "transform": [{"filter": "datum.p=='B'"}], "mark": {"type": "line", "interpolate": "step-after", "strokeWidth": 1.6},
       "encoding": {"x": {"field": "t", "type": "quantitative", "title": "Time(years)", "scale": {"domain": [-0.5, 10.5], "nice": false, "zero": false}, "axis": {"values": [0,1,2,3,4,5,6,7,8,9,10]}},
        "y": {"field": "s", "type": "quantitative", "title": "Survival probability", "scale": {"domain": [-0.05, 1.05], "nice": false, "zero": false}, "axis": {"values": [0,0.25,0.5,0.75,1], "format": ".2f"}},
        "stroke": {"field": "r", "type": "nominal", "scale": {"domain": ["high","low"], "range": ["red","blue"]}, "legend": {"orient": "none", "legendX": 95, "legendY": -26, "direction": "horizontal", "title": "Risk", "titleOrient": "left", "symbolType": "M-1,0H1M0,-0.55V0.55", "symbolSize": 150, "symbolStrokeWidth": 1.6, "labelOffset": 3, "columnPadding": 6, "titlePadding": 6, "titleOpacity": 0, "labelOpacity": 0}}}},
      {"data": {"name": "cen"}, "transform": [{"filter": "datum.p=='B'"}], "mark": {"type": "point", "shape": "M-1,0H1M0,-1V1", "filled": false, "size": 30, "strokeWidth": 1.2, "opacity": 1},
       "encoding": {"x": {"field": "t", "type": "quantitative", "title": "Time(years)", "scale": {"domain": [-0.5, 10.5], "nice": false, "zero": false}, "axis": {"values": [0,1,2,3,4,5,6,7,8,9,10]}},
        "y": {"field": "s", "type": "quantitative", "title": "Survival probability", "scale": {"domain": [-0.05, 1.05], "nice": false, "zero": false}, "axis": {"values": [0,0.25,0.5,0.75,1], "format": ".2f"}},
        "color": {"field": "r", "type": "nominal", "scale": {"domain": ["high","low"], "range": ["red","blue"]}, "legend": null}}},
      {"data": {"values": [{}]}, "mark": {"type": "text", "align": "left", "dx": 5, "fontSize": 14, "color": "black"},
       "encoding": {"x": {"datum": 0, "title": "Time(years)", "scale": {"domain": [-0.5, 10.5], "nice": false, "zero": false}, "axis": {"values": [0,1,2,3,4,5,6,7,8,9,10]}}, "y": {"datum": 0.19, "title": "Survival probability", "scale": {"domain": [-0.05, 1.05], "nice": false, "zero": false}, "axis": {"values": [0,0.25,0.5,0.75,1], "format": ".2f"}}, "text": {"value": "p<0.001"}}}
     ]},
    {"width": 283, "height": 17, "data": {"name": "risk"}, "transform": [{"filter": "datum.p=='B'"}], "mark": {"type": "text", "fontSize": 11},
     "encoding": {"x": {"field": "t", "type": "quantitative", "title": "Time(years)", "scale": {"domain": [-0.5, 10.5], "nice": false, "zero": false}, "axis": {"values": [0,1,2,3,4,5,6,7,8,9,10]}},
      "y": {"field": "r", "type": "nominal", "title": "Risk", "scale": {"type": "point", "domain": ["high","low"], "padding": 0.5}, "axis": {"labelColor": {"condition": {"test": "datum.value=='high'", "value": "red"}, "value": "blue"}}},
      "text": {"field": "n", "type": "quantitative"},
      "color": {"field": "r", "type": "nominal", "scale": {"domain": ["high","low"], "range": ["red","blue"]}, "legend": null}}}
   ]},
  {"title": {"text": "C", "frame": "bounds", "fontSize": 24, "offset": 17},
   "spacing": 22, "resolve": {"scale": {"fill": "independent", "stroke": "independent"}, "legend": {"fill": "independent", "stroke": "independent"}},
   "vconcat": [
    {"title": "Patients with MALE", "width": 283, "height": 123,
     "layer": [
      {"data": {"name": "km"}, "transform": [{"filter": "datum.p=='C'"}], "mark": {"type": "area", "interpolate": "step-after", "opacity": 0.3},
       "encoding": {"x": {"field": "t", "type": "quantitative", "title": "Time(years)", "scale": {"domain": [-0.5, 10.5], "nice": false, "zero": false}, "axis": {"values": [0,1,2,3,4,5,6,7,8,9,10]}},
        "y": {"field": "lo", "type": "quantitative", "title": "Survival probability", "scale": {"domain": [-0.05, 1.05], "nice": false, "zero": false}, "axis": {"values": [0,0.25,0.5,0.75,1], "format": ".2f"}},
        "y2": {"field": "hi"},
        "fill": {"field": "r", "type": "nominal", "scale": {"range": ["red","blue"]}, "legend": {"orient": "none", "legendX": 95, "legendY": -26, "direction": "horizontal", "title": "Risk", "titleOrient": "left", "symbolType": "square", "symbolSize": 150, "symbolOpacity": 0.3, "symbolStrokeWidth": 1.6, "symbolStrokeColor": "transparent", "labelOffset": 3, "columnPadding": 6, "titlePadding": 6}}}},
      {"data": {"name": "km"}, "transform": [{"filter": "datum.p=='C'"}], "mark": {"type": "line", "interpolate": "step-after", "strokeWidth": 1.6},
       "encoding": {"x": {"field": "t", "type": "quantitative", "title": "Time(years)", "scale": {"domain": [-0.5, 10.5], "nice": false, "zero": false}, "axis": {"values": [0,1,2,3,4,5,6,7,8,9,10]}},
        "y": {"field": "s", "type": "quantitative", "title": "Survival probability", "scale": {"domain": [-0.05, 1.05], "nice": false, "zero": false}, "axis": {"values": [0,0.25,0.5,0.75,1], "format": ".2f"}},
        "stroke": {"field": "r", "type": "nominal", "scale": {"domain": ["high","low"], "range": ["red","blue"]}, "legend": {"orient": "none", "legendX": 95, "legendY": -26, "direction": "horizontal", "title": "Risk", "titleOrient": "left", "symbolType": "M-1,0H1M0,-0.55V0.55", "symbolSize": 150, "symbolStrokeWidth": 1.6, "labelOffset": 3, "columnPadding": 6, "titlePadding": 6, "titleOpacity": 0, "labelOpacity": 0}}}},
      {"data": {"name": "cen"}, "transform": [{"filter": "datum.p=='C'"}], "mark": {"type": "point", "shape": "M-1,0H1M0,-1V1", "filled": false, "size": 30, "strokeWidth": 1.2, "opacity": 1},
       "encoding": {"x": {"field": "t", "type": "quantitative", "title": "Time(years)", "scale": {"domain": [-0.5, 10.5], "nice": false, "zero": false}, "axis": {"values": [0,1,2,3,4,5,6,7,8,9,10]}},
        "y": {"field": "s", "type": "quantitative", "title": "Survival probability", "scale": {"domain": [-0.05, 1.05], "nice": false, "zero": false}, "axis": {"values": [0,0.25,0.5,0.75,1], "format": ".2f"}},
        "color": {"field": "r", "type": "nominal", "scale": {"domain": ["high","low"], "range": ["red","blue"]}, "legend": null}}},
      {"data": {"values": [{}]}, "mark": {"type": "text", "align": "left", "dx": 5, "fontSize": 14, "color": "black"},
       "encoding": {"x": {"datum": 0, "title": "Time(years)", "scale": {"domain": [-0.5, 10.5], "nice": false, "zero": false}, "axis": {"values": [0,1,2,3,4,5,6,7,8,9,10]}}, "y": {"datum": 0.19, "title": "Survival probability", "scale": {"domain": [-0.05, 1.05], "nice": false, "zero": false}, "axis": {"values": [0,0.25,0.5,0.75,1], "format": ".2f"}}, "text": {"value": "p<0.001"}}}
     ]},
    {"width": 283, "height": 17, "data": {"name": "risk"}, "transform": [{"filter": "datum.p=='C'"}], "mark": {"type": "text", "fontSize": 11},
     "encoding": {"x": {"field": "t", "type": "quantitative", "title": "Time(years)", "scale": {"domain": [-0.5, 10.5], "nice": false, "zero": false}, "axis": {"values": [0,1,2,3,4,5,6,7,8,9,10]}},
      "y": {"field": "r", "type": "nominal", "title": "Risk", "scale": {"type": "point", "domain": ["high","low"], "padding": 0.5}, "axis": {"labelColor": {"condition": {"test": "datum.value=='high'", "value": "red"}, "value": "blue"}}},
      "text": {"field": "n", "type": "quantitative"},
      "color": {"field": "r", "type": "nominal", "scale": {"domain": ["high","low"], "range": ["red","blue"]}, "legend": null}}}
   ]}
 ]},
{"spacing": 42, "resolve": {"scale": {"fill": "independent", "stroke": "independent"}, "legend": {"fill": "independent", "stroke": "independent"}},
 "vconcat": [
{"spacing": 25, "resolve": {"scale": {"fill": "independent", "stroke": "independent"}, "legend": {"fill": "independent", "stroke": "independent"}},
 "hconcat": [
  {"title": {"text": "D", "frame": "bounds", "fontSize": 24, "offset": 17},
   "spacing": 22, "resolve": {"scale": {"fill": "independent", "stroke": "independent"}, "legend": {"fill": "independent", "stroke": "independent"}},
   "vconcat": [
    {"title": "Patients with FEMALE", "width": 283, "height": 123,
     "layer": [
      {"data": {"name": "km"}, "transform": [{"filter": "datum.p=='D'"}], "mark": {"type": "area", "interpolate": "step-after", "opacity": 0.3},
       "encoding": {"x": {"field": "t", "type": "quantitative", "title": "Time(years)", "scale": {"domain": [-0.5, 10.5], "nice": false, "zero": false}, "axis": {"values": [0,1,2,3,4,5,6,7,8,9,10]}},
        "y": {"field": "lo", "type": "quantitative", "title": "Survival probability", "scale": {"domain": [-0.05, 1.05], "nice": false, "zero": false}, "axis": {"values": [0,0.25,0.5,0.75,1], "format": ".2f"}},
        "y2": {"field": "hi"},
        "fill": {"field": "r", "type": "nominal", "scale": {"range": ["red","blue"]}, "legend": {"orient": "none", "legendX": 95, "legendY": -26, "direction": "horizontal", "title": "Risk", "titleOrient": "left", "symbolType": "square", "symbolSize": 150, "symbolOpacity": 0.3, "symbolStrokeWidth": 1.6, "symbolStrokeColor": "transparent", "labelOffset": 3, "columnPadding": 6, "titlePadding": 6}}}},
      {"data": {"name": "km"}, "transform": [{"filter": "datum.p=='D'"}], "mark": {"type": "line", "interpolate": "step-after", "strokeWidth": 1.6},
       "encoding": {"x": {"field": "t", "type": "quantitative", "title": "Time(years)", "scale": {"domain": [-0.5, 10.5], "nice": false, "zero": false}, "axis": {"values": [0,1,2,3,4,5,6,7,8,9,10]}},
        "y": {"field": "s", "type": "quantitative", "title": "Survival probability", "scale": {"domain": [-0.05, 1.05], "nice": false, "zero": false}, "axis": {"values": [0,0.25,0.5,0.75,1], "format": ".2f"}},
        "stroke": {"field": "r", "type": "nominal", "scale": {"domain": ["high","low"], "range": ["red","blue"]}, "legend": {"orient": "none", "legendX": 95, "legendY": -26, "direction": "horizontal", "title": "Risk", "titleOrient": "left", "symbolType": "M-1,0H1M0,-0.55V0.55", "symbolSize": 150, "symbolStrokeWidth": 1.6, "labelOffset": 3, "columnPadding": 6, "titlePadding": 6, "titleOpacity": 0, "labelOpacity": 0}}}},
      {"data": {"name": "cen"}, "transform": [{"filter": "datum.p=='D'"}], "mark": {"type": "point", "shape": "M-1,0H1M0,-1V1", "filled": false, "size": 30, "strokeWidth": 1.2, "opacity": 1},
       "encoding": {"x": {"field": "t", "type": "quantitative", "title": "Time(years)", "scale": {"domain": [-0.5, 10.5], "nice": false, "zero": false}, "axis": {"values": [0,1,2,3,4,5,6,7,8,9,10]}},
        "y": {"field": "s", "type": "quantitative", "title": "Survival probability", "scale": {"domain": [-0.05, 1.05], "nice": false, "zero": false}, "axis": {"values": [0,0.25,0.5,0.75,1], "format": ".2f"}},
        "color": {"field": "r", "type": "nominal", "scale": {"domain": ["high","low"], "range": ["red","blue"]}, "legend": null}}},
      {"data": {"values": [{}]}, "mark": {"type": "text", "align": "left", "dx": 5, "fontSize": 14, "color": "black"},
       "encoding": {"x": {"datum": 0, "title": "Time(years)", "scale": {"domain": [-0.5, 10.5], "nice": false, "zero": false}, "axis": {"values": [0,1,2,3,4,5,6,7,8,9,10]}}, "y": {"datum": 0.19, "title": "Survival probability", "scale": {"domain": [-0.05, 1.05], "nice": false, "zero": false}, "axis": {"values": [0,0.25,0.5,0.75,1], "format": ".2f"}}, "text": {"value": "p<0.001"}}}
     ]},
    {"width": 283, "height": 17, "data": {"name": "risk"}, "transform": [{"filter": "datum.p=='D'"}], "mark": {"type": "text", "fontSize": 11},
     "encoding": {"x": {"field": "t", "type": "quantitative", "title": "Time(years)", "scale": {"domain": [-0.5, 10.5], "nice": false, "zero": false}, "axis": {"values": [0,1,2,3,4,5,6,7,8,9,10]}},
      "y": {"field": "r", "type": "nominal", "title": "Risk", "scale": {"type": "point", "domain": ["high","low"], "padding": 0.5}, "axis": {"labelColor": {"condition": {"test": "datum.value=='high'", "value": "red"}, "value": "blue"}}},
      "text": {"field": "n", "type": "quantitative"},
      "color": {"field": "r", "type": "nominal", "scale": {"domain": ["high","low"], "range": ["red","blue"]}, "legend": null}}}
   ]},
  {"title": {"text": "E", "frame": "bounds", "fontSize": 24, "offset": 17},
   "spacing": 22, "resolve": {"scale": {"fill": "independent", "stroke": "independent"}, "legend": {"fill": "independent", "stroke": "independent"}},
   "vconcat": [
    {"title": "Patients with G1−2", "width": 283, "height": 123,
     "layer": [
      {"data": {"name": "km"}, "transform": [{"filter": "datum.p=='E'"}], "mark": {"type": "area", "interpolate": "step-after", "opacity": 0.3},
       "encoding": {"x": {"field": "t", "type": "quantitative", "title": "Time(years)", "scale": {"domain": [-0.3, 6.3], "nice": false, "zero": false}, "axis": {"values": [0,1,2,3,4,5,6]}},
        "y": {"field": "lo", "type": "quantitative", "title": "Survival probability", "scale": {"domain": [-0.05, 1.05], "nice": false, "zero": false}, "axis": {"values": [0,0.25,0.5,0.75,1], "format": ".2f"}},
        "y2": {"field": "hi"},
        "fill": {"field": "r", "type": "nominal", "scale": {"range": ["red","blue"]}, "legend": {"orient": "none", "legendX": 95, "legendY": -26, "direction": "horizontal", "title": "Risk", "titleOrient": "left", "symbolType": "square", "symbolSize": 150, "symbolOpacity": 0.3, "symbolStrokeWidth": 1.6, "symbolStrokeColor": "transparent", "labelOffset": 3, "columnPadding": 6, "titlePadding": 6}}}},
      {"data": {"name": "km"}, "transform": [{"filter": "datum.p=='E'"}], "mark": {"type": "line", "interpolate": "step-after", "strokeWidth": 1.6},
       "encoding": {"x": {"field": "t", "type": "quantitative", "title": "Time(years)", "scale": {"domain": [-0.3, 6.3], "nice": false, "zero": false}, "axis": {"values": [0,1,2,3,4,5,6]}},
        "y": {"field": "s", "type": "quantitative", "title": "Survival probability", "scale": {"domain": [-0.05, 1.05], "nice": false, "zero": false}, "axis": {"values": [0,0.25,0.5,0.75,1], "format": ".2f"}},
        "stroke": {"field": "r", "type": "nominal", "scale": {"domain": ["high","low"], "range": ["red","blue"]}, "legend": {"orient": "none", "legendX": 95, "legendY": -26, "direction": "horizontal", "title": "Risk", "titleOrient": "left", "symbolType": "M-1,0H1M0,-0.55V0.55", "symbolSize": 150, "symbolStrokeWidth": 1.6, "labelOffset": 3, "columnPadding": 6, "titlePadding": 6, "titleOpacity": 0, "labelOpacity": 0}}}},
      {"data": {"name": "cen"}, "transform": [{"filter": "datum.p=='E'"}], "mark": {"type": "point", "shape": "M-1,0H1M0,-1V1", "filled": false, "size": 30, "strokeWidth": 1.2, "opacity": 1},
       "encoding": {"x": {"field": "t", "type": "quantitative", "title": "Time(years)", "scale": {"domain": [-0.3, 6.3], "nice": false, "zero": false}, "axis": {"values": [0,1,2,3,4,5,6]}},
        "y": {"field": "s", "type": "quantitative", "title": "Survival probability", "scale": {"domain": [-0.05, 1.05], "nice": false, "zero": false}, "axis": {"values": [0,0.25,0.5,0.75,1], "format": ".2f"}},
        "color": {"field": "r", "type": "nominal", "scale": {"domain": ["high","low"], "range": ["red","blue"]}, "legend": null}}},
      {"data": {"values": [{}]}, "mark": {"type": "text", "align": "left", "dx": 5, "fontSize": 14, "color": "black"},
       "encoding": {"x": {"datum": 0, "title": "Time(years)", "scale": {"domain": [-0.3, 6.3], "nice": false, "zero": false}, "axis": {"values": [0,1,2,3,4,5,6]}}, "y": {"datum": 0.19, "title": "Survival probability", "scale": {"domain": [-0.05, 1.05], "nice": false, "zero": false}, "axis": {"values": [0,0.25,0.5,0.75,1], "format": ".2f"}}, "text": {"value": "p<0.001"}}}
     ]},
    {"width": 283, "height": 17, "data": {"name": "risk"}, "transform": [{"filter": "datum.p=='E'"}], "mark": {"type": "text", "fontSize": 11},
     "encoding": {"x": {"field": "t", "type": "quantitative", "title": "Time(years)", "scale": {"domain": [-0.3, 6.3], "nice": false, "zero": false}, "axis": {"values": [0,1,2,3,4,5,6]}},
      "y": {"field": "r", "type": "nominal", "title": "Risk", "scale": {"type": "point", "domain": ["high","low"], "padding": 0.5}, "axis": {"labelColor": {"condition": {"test": "datum.value=='high'", "value": "red"}, "value": "blue"}}},
      "text": {"field": "n", "type": "quantitative"},
      "color": {"field": "r", "type": "nominal", "scale": {"domain": ["high","low"], "range": ["red","blue"]}, "legend": null}}}
   ]},
  {"title": {"text": "F", "frame": "bounds", "fontSize": 24, "offset": 17},
   "spacing": 22, "resolve": {"scale": {"fill": "independent", "stroke": "independent"}, "legend": {"fill": "independent", "stroke": "independent"}},
   "vconcat": [
    {"title": "Patients with G3", "width": 283, "height": 123,
     "layer": [
      {"data": {"name": "km"}, "transform": [{"filter": "datum.p=='F'"}], "mark": {"type": "area", "interpolate": "step-after", "opacity": 0.3},
       "encoding": {"x": {"field": "t", "type": "quantitative", "title": "Time(years)", "scale": {"domain": [-0.5, 10.5], "nice": false, "zero": false}, "axis": {"values": [0,1,2,3,4,5,6,7,8,9,10]}},
        "y": {"field": "lo", "type": "quantitative", "title": "Survival probability", "scale": {"domain": [-0.05, 1.05], "nice": false, "zero": false}, "axis": {"values": [0,0.25,0.5,0.75,1], "format": ".2f"}},
        "y2": {"field": "hi"},
        "fill": {"field": "r", "type": "nominal", "scale": {"range": ["red","blue"]}, "legend": {"orient": "none", "legendX": 95, "legendY": -26, "direction": "horizontal", "title": "Risk", "titleOrient": "left", "symbolType": "square", "symbolSize": 150, "symbolOpacity": 0.3, "symbolStrokeWidth": 1.6, "symbolStrokeColor": "transparent", "labelOffset": 3, "columnPadding": 6, "titlePadding": 6}}}},
      {"data": {"name": "km"}, "transform": [{"filter": "datum.p=='F'"}], "mark": {"type": "line", "interpolate": "step-after", "strokeWidth": 1.6},
       "encoding": {"x": {"field": "t", "type": "quantitative", "title": "Time(years)", "scale": {"domain": [-0.5, 10.5], "nice": false, "zero": false}, "axis": {"values": [0,1,2,3,4,5,6,7,8,9,10]}},
        "y": {"field": "s", "type": "quantitative", "title": "Survival probability", "scale": {"domain": [-0.05, 1.05], "nice": false, "zero": false}, "axis": {"values": [0,0.25,0.5,0.75,1], "format": ".2f"}},
        "stroke": {"field": "r", "type": "nominal", "scale": {"domain": ["high","low"], "range": ["red","blue"]}, "legend": {"orient": "none", "legendX": 95, "legendY": -26, "direction": "horizontal", "title": "Risk", "titleOrient": "left", "symbolType": "M-1,0H1M0,-0.55V0.55", "symbolSize": 150, "symbolStrokeWidth": 1.6, "labelOffset": 3, "columnPadding": 6, "titlePadding": 6, "titleOpacity": 0, "labelOpacity": 0}}}},
      {"data": {"name": "cen"}, "transform": [{"filter": "datum.p=='F'"}], "mark": {"type": "point", "shape": "M-1,0H1M0,-1V1", "filled": false, "size": 30, "strokeWidth": 1.2, "opacity": 1},
       "encoding": {"x": {"field": "t", "type": "quantitative", "title": "Time(years)", "scale": {"domain": [-0.5, 10.5], "nice": false, "zero": false}, "axis": {"values": [0,1,2,3,4,5,6,7,8,9,10]}},
        "y": {"field": "s", "type": "quantitative", "title": "Survival probability", "scale": {"domain": [-0.05, 1.05], "nice": false, "zero": false}, "axis": {"values": [0,0.25,0.5,0.75,1], "format": ".2f"}},
        "color": {"field": "r", "type": "nominal", "scale": {"domain": ["high","low"], "range": ["red","blue"]}, "legend": null}}},
      {"data": {"values": [{}]}, "mark": {"type": "text", "align": "left", "dx": 5, "fontSize": 14, "color": "black"},
       "encoding": {"x": {"datum": 0, "title": "Time(years)", "scale": {"domain": [-0.5, 10.5], "nice": false, "zero": false}, "axis": {"values": [0,1,2,3,4,5,6,7,8,9,10]}}, "y": {"datum": 0.19, "title": "Survival probability", "scale": {"domain": [-0.05, 1.05], "nice": false, "zero": false}, "axis": {"values": [0,0.25,0.5,0.75,1], "format": ".2f"}}, "text": {"value": "p<0.001"}}}
     ]},
    {"width": 283, "height": 17, "data": {"name": "risk"}, "transform": [{"filter": "datum.p=='F'"}], "mark": {"type": "text", "fontSize": 11},
     "encoding": {"x": {"field": "t", "type": "quantitative", "title": "Time(years)", "scale": {"domain": [-0.5, 10.5], "nice": false, "zero": false}, "axis": {"values": [0,1,2,3,4,5,6,7,8,9,10]}},
      "y": {"field": "r", "type": "nominal", "title": "Risk", "scale": {"type": "point", "domain": ["high","low"], "padding": 0.5}, "axis": {"labelColor": {"condition": {"test": "datum.value=='high'", "value": "red"}, "value": "blue"}}},
      "text": {"field": "n", "type": "quantitative"},
      "color": {"field": "r", "type": "nominal", "scale": {"domain": ["high","low"], "range": ["red","blue"]}, "legend": null}}}
   ]}
 ]},
{"spacing": 63, "resolve": {"scale": {"fill": "independent", "stroke": "independent"}, "legend": {"fill": "independent", "stroke": "independent"}},
 "hconcat": [
  {"width": 21, "height": 10, "data": {"values": []}, "mark": "point", "encoding": {}},
  {"title": {"text": "G", "frame": "bounds", "fontSize": 21, "offset": 8, "dx": -35},
   "spacing": 22, "resolve": {"scale": {"fill": "independent", "stroke": "independent"}, "legend": {"fill": "independent", "stroke": "independent"}},
   "vconcat": [
    {"title": "Patients with Stage I−II", "width": 283, "height": 123,
     "layer": [
      {"data": {"name": "km"}, "transform": [{"filter": "datum.p=='G'"}], "mark": {"type": "area", "interpolate": "step-after", "opacity": 0.3},
       "encoding": {"x": {"field": "t", "type": "quantitative", "title": "Time(years)", "scale": {"domain": [-0.5, 10.5], "nice": false, "zero": false}, "axis": {"values": [0,1,2,3,4,5,6,7,8,9,10]}},
        "y": {"field": "lo", "type": "quantitative", "title": "Survival probability", "scale": {"domain": [-0.05, 1.05], "nice": false, "zero": false}, "axis": {"values": [0,0.25,0.5,0.75,1], "format": ".2f"}},
        "y2": {"field": "hi"},
        "fill": {"field": "r", "type": "nominal", "scale": {"range": ["red","blue"]}, "legend": {"orient": "none", "legendX": 95, "legendY": -26, "direction": "horizontal", "title": "Risk", "titleOrient": "left", "symbolType": "square", "symbolSize": 150, "symbolOpacity": 0.3, "symbolStrokeWidth": 1.6, "symbolStrokeColor": "transparent", "labelOffset": 3, "columnPadding": 6, "titlePadding": 6}}}},
      {"data": {"name": "km"}, "transform": [{"filter": "datum.p=='G'"}], "mark": {"type": "line", "interpolate": "step-after", "strokeWidth": 1.6},
       "encoding": {"x": {"field": "t", "type": "quantitative", "title": "Time(years)", "scale": {"domain": [-0.5, 10.5], "nice": false, "zero": false}, "axis": {"values": [0,1,2,3,4,5,6,7,8,9,10]}},
        "y": {"field": "s", "type": "quantitative", "title": "Survival probability", "scale": {"domain": [-0.05, 1.05], "nice": false, "zero": false}, "axis": {"values": [0,0.25,0.5,0.75,1], "format": ".2f"}},
        "stroke": {"field": "r", "type": "nominal", "scale": {"domain": ["high","low"], "range": ["red","blue"]}, "legend": {"orient": "none", "legendX": 95, "legendY": -26, "direction": "horizontal", "title": "Risk", "titleOrient": "left", "symbolType": "M-1,0H1M0,-0.55V0.55", "symbolSize": 150, "symbolStrokeWidth": 1.6, "labelOffset": 3, "columnPadding": 6, "titlePadding": 6, "titleOpacity": 0, "labelOpacity": 0}}}},
      {"data": {"name": "cen"}, "transform": [{"filter": "datum.p=='G'"}], "mark": {"type": "point", "shape": "M-1,0H1M0,-1V1", "filled": false, "size": 30, "strokeWidth": 1.2, "opacity": 1},
       "encoding": {"x": {"field": "t", "type": "quantitative", "title": "Time(years)", "scale": {"domain": [-0.5, 10.5], "nice": false, "zero": false}, "axis": {"values": [0,1,2,3,4,5,6,7,8,9,10]}},
        "y": {"field": "s", "type": "quantitative", "title": "Survival probability", "scale": {"domain": [-0.05, 1.05], "nice": false, "zero": false}, "axis": {"values": [0,0.25,0.5,0.75,1], "format": ".2f"}},
        "color": {"field": "r", "type": "nominal", "scale": {"domain": ["high","low"], "range": ["red","blue"]}, "legend": null}}},
      {"data": {"values": [{}]}, "mark": {"type": "text", "align": "left", "dx": 5, "fontSize": 14, "color": "black"},
       "encoding": {"x": {"datum": 0, "title": "Time(years)", "scale": {"domain": [-0.5, 10.5], "nice": false, "zero": false}, "axis": {"values": [0,1,2,3,4,5,6,7,8,9,10]}}, "y": {"datum": 0.19, "title": "Survival probability", "scale": {"domain": [-0.05, 1.05], "nice": false, "zero": false}, "axis": {"values": [0,0.25,0.5,0.75,1], "format": ".2f"}}, "text": {"value": "p<0.001"}}}
     ]},
    {"width": 283, "height": 17, "data": {"name": "risk"}, "transform": [{"filter": "datum.p=='G'"}], "mark": {"type": "text", "fontSize": 11},
     "encoding": {"x": {"field": "t", "type": "quantitative", "title": "Time(years)", "scale": {"domain": [-0.5, 10.5], "nice": false, "zero": false}, "axis": {"values": [0,1,2,3,4,5,6,7,8,9,10]}},
      "y": {"field": "r", "type": "nominal", "title": "Risk", "scale": {"type": "point", "domain": ["high","low"], "padding": 0.5}, "axis": {"labelColor": {"condition": {"test": "datum.value=='high'", "value": "red"}, "value": "blue"}}},
      "text": {"field": "n", "type": "quantitative"},
      "color": {"field": "r", "type": "nominal", "scale": {"domain": ["high","low"], "range": ["red","blue"]}, "legend": null}}}
   ]},
  {"title": {"text": "H", "frame": "bounds", "fontSize": 21, "offset": 8, "dx": -26},
   "spacing": 22, "resolve": {"scale": {"fill": "independent", "stroke": "independent"}, "legend": {"fill": "independent", "stroke": "independent"}},
   "vconcat": [
    {"title": "Patients with Stage III−IV", "width": 283, "height": 123,
     "layer": [
      {"data": {"name": "km"}, "transform": [{"filter": "datum.p=='H'"}], "mark": {"type": "area", "interpolate": "step-after", "opacity": 0.3},
       "encoding": {"x": {"field": "t", "type": "quantitative", "title": "Time(years)", "scale": {"domain": [-0.5, 10.5], "nice": false, "zero": false}, "axis": {"values": [0,1,2,3,4,5,6,7,8,9,10]}},
        "y": {"field": "lo", "type": "quantitative", "title": "Survival probability", "scale": {"domain": [-0.05, 1.05], "nice": false, "zero": false}, "axis": {"values": [0,0.25,0.5,0.75,1], "format": ".2f"}},
        "y2": {"field": "hi"},
        "fill": {"field": "r", "type": "nominal", "scale": {"range": ["red","blue"]}, "legend": {"orient": "none", "legendX": 95, "legendY": -26, "direction": "horizontal", "title": "Risk", "titleOrient": "left", "symbolType": "square", "symbolSize": 150, "symbolOpacity": 0.3, "symbolStrokeWidth": 1.6, "symbolStrokeColor": "transparent", "labelOffset": 3, "columnPadding": 6, "titlePadding": 6}}}},
      {"data": {"name": "km"}, "transform": [{"filter": "datum.p=='H'"}], "mark": {"type": "line", "interpolate": "step-after", "strokeWidth": 1.6},
       "encoding": {"x": {"field": "t", "type": "quantitative", "title": "Time(years)", "scale": {"domain": [-0.5, 10.5], "nice": false, "zero": false}, "axis": {"values": [0,1,2,3,4,5,6,7,8,9,10]}},
        "y": {"field": "s", "type": "quantitative", "title": "Survival probability", "scale": {"domain": [-0.05, 1.05], "nice": false, "zero": false}, "axis": {"values": [0,0.25,0.5,0.75,1], "format": ".2f"}},
        "stroke": {"field": "r", "type": "nominal", "scale": {"domain": ["high","low"], "range": ["red","blue"]}, "legend": {"orient": "none", "legendX": 95, "legendY": -26, "direction": "horizontal", "title": "Risk", "titleOrient": "left", "symbolType": "M-1,0H1M0,-0.55V0.55", "symbolSize": 150, "symbolStrokeWidth": 1.6, "labelOffset": 3, "columnPadding": 6, "titlePadding": 6, "titleOpacity": 0, "labelOpacity": 0}}}},
      {"data": {"name": "cen"}, "transform": [{"filter": "datum.p=='H'"}], "mark": {"type": "point", "shape": "M-1,0H1M0,-1V1", "filled": false, "size": 30, "strokeWidth": 1.2, "opacity": 1},
       "encoding": {"x": {"field": "t", "type": "quantitative", "title": "Time(years)", "scale": {"domain": [-0.5, 10.5], "nice": false, "zero": false}, "axis": {"values": [0,1,2,3,4,5,6,7,8,9,10]}},
        "y": {"field": "s", "type": "quantitative", "title": "Survival probability", "scale": {"domain": [-0.05, 1.05], "nice": false, "zero": false}, "axis": {"values": [0,0.25,0.5,0.75,1], "format": ".2f"}},
        "color": {"field": "r", "type": "nominal", "scale": {"domain": ["high","low"], "range": ["red","blue"]}, "legend": null}}},
      {"data": {"values": [{}]}, "mark": {"type": "text", "align": "left", "dx": 5, "fontSize": 14, "color": "black"},
       "encoding": {"x": {"datum": 0, "title": "Time(years)", "scale": {"domain": [-0.5, 10.5], "nice": false, "zero": false}, "axis": {"values": [0,1,2,3,4,5,6,7,8,9,10]}}, "y": {"datum": 0.19, "title": "Survival probability", "scale": {"domain": [-0.05, 1.05], "nice": false, "zero": false}, "axis": {"values": [0,0.25,0.5,0.75,1], "format": ".2f"}}, "text": {"value": "p<0.001"}}}
     ]},
    {"width": 283, "height": 17, "data": {"name": "risk"}, "transform": [{"filter": "datum.p=='H'"}], "mark": {"type": "text", "fontSize": 11},
     "encoding": {"x": {"field": "t", "type": "quantitative", "title": "Time(years)", "scale": {"domain": [-0.5, 10.5], "nice": false, "zero": false}, "axis": {"values": [0,1,2,3,4,5,6,7,8,9,10]}},
      "y": {"field": "r", "type": "nominal", "title": "Risk", "scale": {"type": "point", "domain": ["high","low"], "padding": 0.5}, "axis": {"labelColor": {"condition": {"test": "datum.value=='high'", "value": "red"}, "value": "blue"}}},
      "text": {"field": "n", "type": "quantitative"},
      "color": {"field": "r", "type": "nominal", "scale": {"domain": ["high","low"], "range": ["red","blue"]}, "legend": null}}}
   ]}
 ]}
 ]}
]
}
